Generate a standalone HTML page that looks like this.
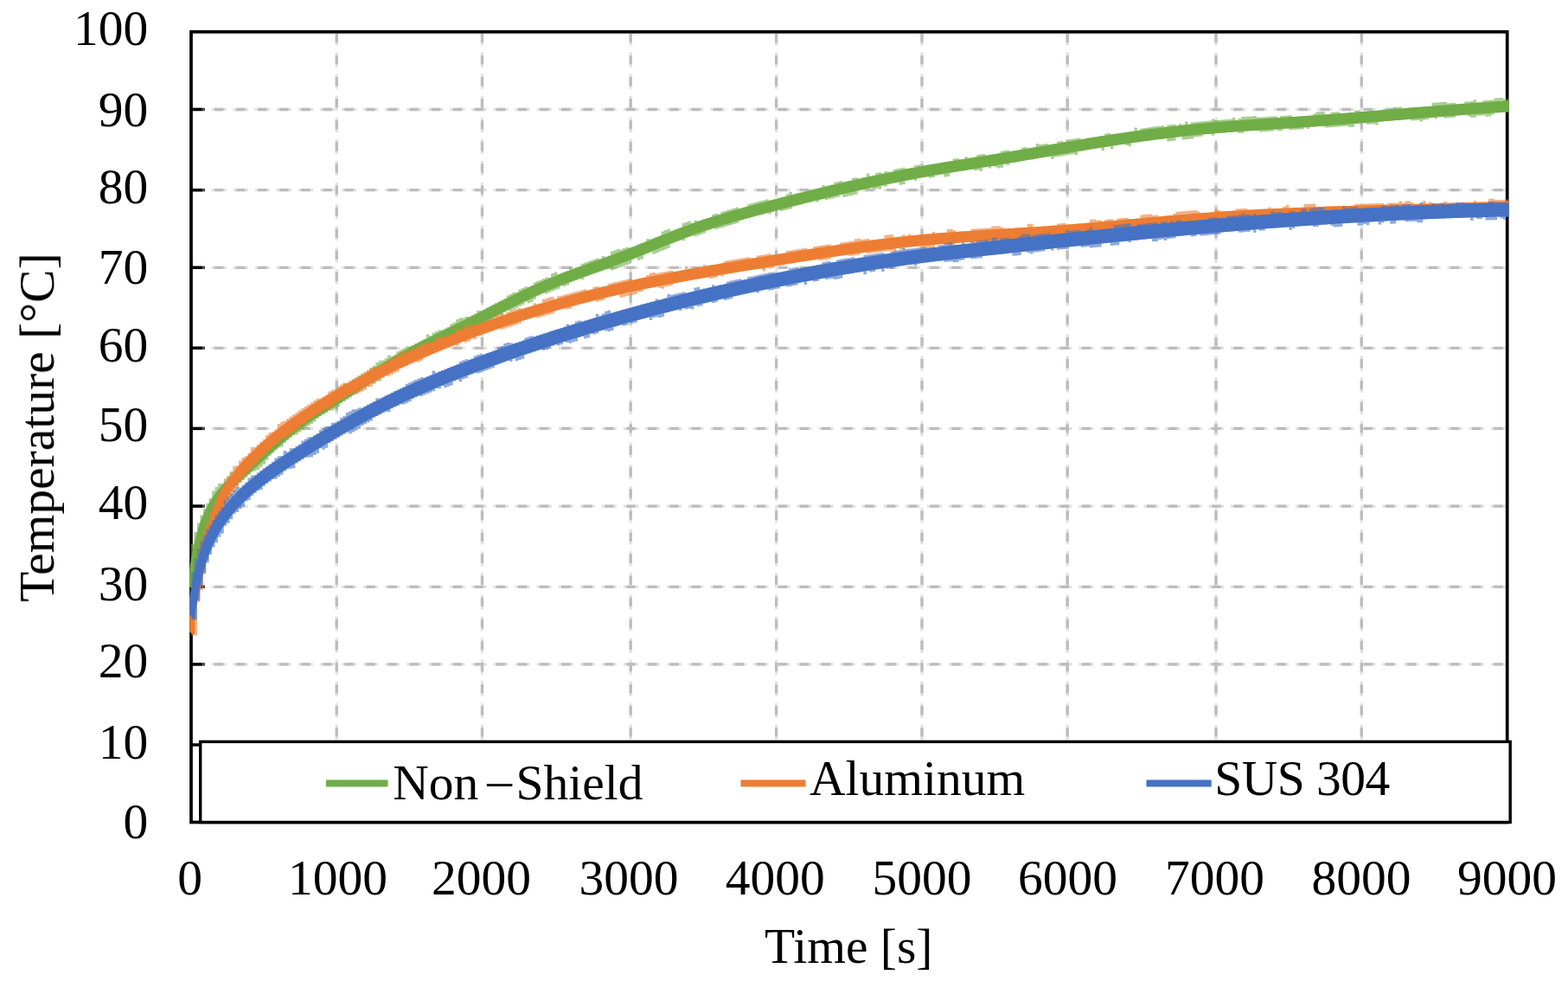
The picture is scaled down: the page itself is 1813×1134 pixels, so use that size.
<!DOCTYPE html>
<html lang="en"><head><meta charset="utf-8"><title>Temperature vs Time</title>
<style>
html,body{margin:0;padding:0;background:#fff;}
body{width:1813px;height:1134px;overflow:hidden;font-family:"Liberation Serif",serif;}
svg{display:block;}
</style></head><body>
<svg width="1813" height="1134" viewBox="0 0 1813 1134">
<rect width="1813" height="1134" fill="#fff"/>
<defs><filter id="soft" x="0" y="0" width="100%" height="100%" filterUnits="userSpaceOnUse"><feGaussianBlur stdDeviation="0.4"/></filter><filter id="softt" x="0" y="0" width="100%" height="100%" filterUnits="userSpaceOnUse"><feGaussianBlur stdDeviation="0.5"/></filter></defs>
<g filter="url(#soft)">
<defs><clipPath id="pc"><rect x="219.2" y="35" width="1525.4" height="917.3"/></clipPath></defs>
<g stroke="#e2e2e2" stroke-width="3.3" stroke-dasharray="17.2 7.87" stroke-dashoffset="0.0" fill="none">
<line x1="219.5" y1="126.5" x2="1742" y2="126.5"/>
<line x1="219.5" y1="219.7" x2="1742" y2="219.7"/>
<line x1="219.5" y1="309.3" x2="1742" y2="309.3"/>
<line x1="219.5" y1="402.3" x2="1742" y2="402.3"/>
<line x1="219.5" y1="495.4" x2="1742" y2="495.4"/>
<line x1="219.5" y1="585.1" x2="1742" y2="585.1"/>
<line x1="219.5" y1="678.3" x2="1742" y2="678.3"/>
<line x1="219.5" y1="767.9" x2="1742" y2="767.9"/>
<line x1="389.3" y1="35.5" x2="389.3" y2="950"/>
<line x1="557.5" y1="35.5" x2="557.5" y2="950"/>
<line x1="729.2" y1="35.5" x2="729.2" y2="950"/>
<line x1="897.6" y1="35.5" x2="897.6" y2="950"/>
<line x1="1066.0" y1="35.5" x2="1066.0" y2="950"/>
<line x1="1234.2" y1="35.5" x2="1234.2" y2="950"/>
<line x1="1406.0" y1="35.5" x2="1406.0" y2="950"/>
<line x1="1574.3" y1="35.5" x2="1574.3" y2="950"/>
</g>
<g stroke="#bcbcbc" stroke-width="3.3" stroke-dasharray="10.4 14.67" stroke-dashoffset="-3.4" fill="none">
<line x1="219.5" y1="126.5" x2="1742" y2="126.5"/>
<line x1="219.5" y1="219.7" x2="1742" y2="219.7"/>
<line x1="219.5" y1="309.3" x2="1742" y2="309.3"/>
<line x1="219.5" y1="402.3" x2="1742" y2="402.3"/>
<line x1="219.5" y1="495.4" x2="1742" y2="495.4"/>
<line x1="219.5" y1="585.1" x2="1742" y2="585.1"/>
<line x1="219.5" y1="678.3" x2="1742" y2="678.3"/>
<line x1="219.5" y1="767.9" x2="1742" y2="767.9"/>
<line x1="389.3" y1="35.5" x2="389.3" y2="950"/>
<line x1="557.5" y1="35.5" x2="557.5" y2="950"/>
<line x1="729.2" y1="35.5" x2="729.2" y2="950"/>
<line x1="897.6" y1="35.5" x2="897.6" y2="950"/>
<line x1="1066.0" y1="35.5" x2="1066.0" y2="950"/>
<line x1="1234.2" y1="35.5" x2="1234.2" y2="950"/>
<line x1="1406.0" y1="35.5" x2="1406.0" y2="950"/>
<line x1="1574.3" y1="35.5" x2="1574.3" y2="950"/>
</g>
<g stroke="#000" stroke-width="3.5">
<line x1="221" y1="126.5" x2="234.3" y2="126.5"/>
<line x1="221" y1="219.7" x2="234.3" y2="219.7"/>
<line x1="221" y1="309.3" x2="234.3" y2="309.3"/>
<line x1="221" y1="402.3" x2="234.3" y2="402.3"/>
<line x1="221" y1="495.4" x2="234.3" y2="495.4"/>
<line x1="221" y1="585.1" x2="234.3" y2="585.1"/>
<line x1="221" y1="678.3" x2="234.3" y2="678.3"/>
<line x1="221" y1="767.9" x2="234.3" y2="767.9"/>
<line x1="221" y1="861.0" x2="234.3" y2="861.0"/>
</g>
<g stroke="#4a4a4a" stroke-width="3.5">
<line x1="234.3" y1="126.5" x2="237" y2="126.5"/>
<line x1="234.3" y1="219.7" x2="237" y2="219.7"/>
<line x1="234.3" y1="309.3" x2="237" y2="309.3"/>
<line x1="234.3" y1="402.3" x2="237" y2="402.3"/>
<line x1="234.3" y1="495.4" x2="237" y2="495.4"/>
<line x1="234.3" y1="585.1" x2="237" y2="585.1"/>
<line x1="234.3" y1="678.3" x2="237" y2="678.3"/>
<line x1="234.3" y1="767.9" x2="237" y2="767.9"/>
<line x1="234.3" y1="861.0" x2="237" y2="861.0"/>
</g>
<rect x="221.0" y="36.8" width="1521.7" height="913.7" fill="none" stroke="#000" stroke-width="3.7"/>
<g clip-path="url(#pc)">
<path d="M221.0,628.6V628.6H224.4V615.1H227.9V604.4H231.3V595.6H234.8V588.1H238.2V581.7H241.6V576.1H245.1V567.5H248.5V563.0H252.0V558.9H255.4V558.8H258.8V553.3H262.3V549.9H265.7V545.0H269.2V545.4H272.6V542.3H276.0V539.2H279.5V536.1H282.9V533.0H286.4V527.9H289.8V524.8H293.2V521.6H296.7V516.8H300.1V513.7H303.6V514.1H307.0V511.1H310.4V506.1H313.9V503.1H317.3V500.1H320.8V499.1H324.2V496.3H327.6V493.5H331.1V487.1H334.5V486.2H338.0V483.6H341.4V481.0H344.8V478.5H348.3V476.1H351.7V473.8H355.2V471.5H358.6V469.3H362.0V467.1H365.5V463.2H368.9V464.6H372.4V460.6H375.8V458.4H379.2V456.3H382.7V454.1H386.1V451.9H389.6V449.7H393.0V447.5H396.4V443.5H399.9V443.0H403.3V440.7H406.8V438.4H410.2V436.2H413.6V433.9H417.1V431.7H420.5V431.3H424.0V429.1H427.4V425.0H430.8V422.8H434.3V419.0H437.7V416.8H441.2V416.4H444.6V414.3H448.0V410.6H451.5V412.1H454.9V410.2H458.4V406.3H461.8V404.4H465.2V402.5H468.7V400.6H472.1V400.6H475.6V398.8H479.0V397.0H482.4V395.2H485.9V393.5H489.3V391.7H492.8V386.4H496.2V388.2H499.6V384.6H503.1V382.9H506.5V381.2H510.0V381.4H513.4V379.7H516.8V378.0H520.3V374.4H523.7V372.7H527.2V369.3H530.6V367.6H534.0V367.6H537.5V365.9H540.9V366.1H544.4V364.4H547.8V362.6H551.2V359.0H554.7V359.1H558.1V357.4H561.6V355.6H565.0V353.8H568.4V352.1H571.9V350.3H575.3V348.5H578.8V346.8H582.2V345.0H585.6V341.4H589.1V339.7H592.5V337.9H596.0V338.1H599.4V334.6H602.8V332.9H606.3V331.3H609.7V331.5H613.2V329.9H616.6V326.5H620.0V324.9H623.5V323.4H626.9V321.9H630.4V320.5H633.8V321.0H637.2V316.0H640.7V314.6H644.1V316.9H647.6V315.5H651.0V314.2H654.4V312.9H657.9V308.0H661.3V310.4H664.8V309.1H668.2V307.9H671.6V304.7H675.1V303.5H678.5V302.2H682.0V301.0H685.4V299.8H688.8V298.5H692.3V299.2H695.7V296.0H699.2V296.7H702.6V295.4H706.0V290.6H709.5V289.3H712.9V288.0H716.4V288.4H719.8V287.1H723.2V285.7H726.7V286.3H730.1V284.9H733.6V283.6H737.0V282.2H740.4V280.8H743.9V279.4H747.3V276.1H750.8V276.6H754.2V275.2H757.6V273.8H761.1V272.4H764.5V267.4H768.0V266.0H771.4V264.6H774.8V266.8H778.3V265.5H781.7V264.2H785.2V262.9H788.6V258.0H792.0V256.7H795.5V255.4H798.9V257.8H802.4V254.7H805.8V255.4H809.2V254.3H812.7V253.1H816.1V252.0H819.6V250.9H823.0V247.9H826.4V246.8H829.9V247.7H833.3V244.8H836.8V243.7H840.2V242.7H843.6V241.7H847.1V240.8H850.5V239.8H854.0V240.7H857.4V239.8H860.8V238.8H864.3V236.0H867.7V235.1H871.2V234.2H874.6V233.2H878.0V232.3H881.5V231.4H884.9V230.5H888.4V231.5H891.8V230.7H895.2V229.8H898.7V228.9H902.1V228.0H905.6V227.1H909.0V224.3H912.4V221.8H915.9V224.5H919.3V223.6H922.8V222.8H926.2V221.9H929.6V221.0H933.1V220.2H936.5V219.3H940.0V218.5H943.4V217.7H946.8V216.8H950.3V214.1H953.7V215.2H957.2V214.3H960.6V213.5H964.0V210.8H967.5V210.0H970.9V209.2H974.4V210.3H977.8V209.5H981.2V208.7H984.7V206.0H988.1V205.3H991.6V206.4H995.0V205.6H998.4V204.9H1001.9V200.5H1005.3V203.4H1008.8V202.7H1012.2V200.0H1015.6V199.3H1019.1V200.5H1022.5V197.9H1026.0V199.1H1029.4V198.4H1032.8V195.8H1036.3V195.1H1039.7V194.4H1043.2V193.8H1046.6V195.0H1050.0V194.4H1053.5V193.7H1056.9V191.2H1060.4V190.6H1063.8V191.9H1067.2V191.2H1070.7V190.6H1074.1V190.0H1077.6V189.5H1081.0V188.9H1084.4V188.3H1087.9V187.7H1091.3V187.1H1094.8V186.6H1098.2V186.0H1101.6V183.6H1105.1V183.0H1108.5V184.3H1112.0V183.8H1115.4V181.3H1118.8V182.7H1122.3V182.1H1125.7V181.6H1129.2V179.1H1132.6V178.6H1136.0V178.0H1139.5V179.4H1142.9V178.8H1146.4V178.3H1149.8V177.7H1153.2V177.1H1156.7V174.7H1160.1V174.1H1163.6V173.5H1167.0V174.8H1170.4V174.3H1173.9V173.7H1177.3V173.1H1180.8V170.6H1184.2V170.0H1187.6V171.3H1191.1V170.7H1194.5V170.1H1198.0V165.9H1201.4V167.0H1204.8V166.5H1208.3V165.9H1211.7V167.2H1215.2V166.6H1218.6V166.0H1222.0V163.5H1225.5V162.9H1228.9V164.2H1232.4V161.7H1235.8V161.1H1239.2V160.6H1242.7V160.0H1246.1V159.4H1249.6V160.7H1253.0V160.2H1256.4V159.6H1259.9V159.0H1263.3V158.5H1266.8V157.9H1270.2V157.4H1273.6V156.8H1277.1V154.4H1280.5V153.9H1284.0V155.2H1287.4V154.7H1290.8V154.2H1294.3V153.7H1297.7V153.2H1301.2V152.7H1304.6V152.2H1308.0V151.7H1311.5V147.6H1314.9V150.7H1318.4V148.4H1321.8V147.9H1325.2V147.5H1328.7V147.0H1332.1V146.6H1335.6V146.1H1339.0V145.7H1342.4V145.3H1345.9V146.8H1349.3V144.5H1352.8V144.1H1356.2V143.7H1359.6V145.2H1363.1V142.9H1366.5V144.5H1370.0V140.5H1373.4V143.7H1376.8V141.5H1380.3V141.2H1383.7V140.8H1387.2V140.5H1390.6V140.2H1394.0V139.9H1397.5V139.6H1400.9V137.6H1404.4V139.0H1407.8V138.7H1411.2V138.5H1414.7V138.2H1418.1V137.9H1421.6V137.7H1425.0V135.7H1428.4V139.1H1431.9V137.0H1435.3V135.0H1438.8V134.8H1442.2V134.6H1445.6V134.4H1449.1V134.1H1452.5V135.6H1456.0V135.4H1459.4V135.2H1462.8V135.0H1466.3V134.8H1469.7V134.6H1473.2V134.3H1476.6V136.0H1480.0V133.9H1483.5V133.7H1486.9V133.5H1490.4V133.3H1493.8V134.9H1497.2V134.7H1500.7V134.5H1504.1V134.2H1507.6V134.0H1511.0V133.8H1514.4V133.5H1517.9V131.4H1521.3V129.4H1524.8V129.2H1528.2V128.9H1531.6V132.3H1535.1V132.0H1538.5V129.8H1542.0V129.6H1545.4V129.3H1548.8V131.0H1552.3V130.7H1555.7V130.4H1559.2V130.1H1562.6V129.9H1566.0V127.7H1569.5V127.4H1572.9V129.1H1576.4V128.8H1579.8V128.5H1583.2V128.2H1586.7V128.0H1590.1V127.7H1593.6V127.4H1597.0V127.1H1600.4V126.8H1603.9V126.6H1607.3V126.3H1610.8V124.1H1614.2V123.8H1617.6V123.5H1621.1V125.2H1624.5V124.9H1628.0V124.6H1631.4V124.3H1634.8V124.0H1638.3V123.8H1641.7V123.5H1645.2V123.2H1648.6V123.0H1652.0V122.7H1655.5V118.8H1658.9V118.5H1662.4V118.3H1665.8V118.0H1669.2V117.7H1672.7V119.2H1676.1V118.9H1679.6V118.7H1683.0V120.3H1686.4V120.0H1689.9V119.8H1693.3V117.6H1696.8V117.4H1700.2V117.1H1703.6V115.2H1707.1V118.5H1710.5V118.3H1714.0V116.2H1717.4V115.9H1720.8V115.7H1724.3V115.5H1727.7V113.5H1731.2V113.3H1734.6V113.1H1738.0V114.6H1741.5V114.4H1744.9V129.5H1741.5V129.7H1738.0V129.9H1734.6V130.2H1731.2V130.4H1727.7V132.5H1724.3V134.5H1720.8V134.7H1717.4V133.2H1714.0V133.5H1710.5V133.7H1707.1V135.7H1703.6V135.9H1700.2V134.5H1696.8V132.8H1693.3V133.1H1689.9V133.3H1686.4V133.6H1683.0V135.7H1679.6V136.0H1676.1V136.3H1672.7V136.5H1669.2V134.9H1665.8V135.2H1662.4V137.3H1658.9V135.7H1655.5V136.0H1652.0V138.1H1648.6V138.4H1645.2V140.4H1641.7V139.0H1638.3V139.3H1634.8V139.5H1631.4V137.9H1628.0V138.2H1624.5V138.5H1621.1V138.7H1617.6V139.0H1614.2V139.3H1610.8V139.6H1607.3V139.9H1603.9V140.1H1600.4V140.4H1597.0V140.7H1593.6V144.6H1590.1V143.2H1586.7V143.4H1583.2V143.7H1579.8V142.1H1576.4V142.4H1572.9V142.6H1569.5V142.9H1566.0V146.8H1562.6V147.0H1559.2V145.6H1555.7V145.9H1552.3V146.1H1548.8V146.4H1545.4V146.7H1542.0V146.9H1538.5V147.2H1535.1V147.4H1531.6V145.8H1528.2V146.0H1524.8V146.3H1521.3V146.5H1517.9V146.8H1514.4V148.9H1511.0V147.3H1507.6V149.4H1504.1V149.6H1500.7V149.8H1497.2V150.1H1493.8V150.3H1490.4V148.6H1486.9V148.8H1483.5V150.9H1480.0V151.2H1476.6V149.5H1473.2V151.6H1469.7V151.8H1466.3V152.0H1462.8V152.2H1459.4V152.4H1456.0V150.8H1452.5V151.0H1449.1V151.2H1445.6V151.4H1442.2V151.7H1438.8V153.8H1435.3V154.0H1431.9V152.4H1428.4V152.6H1425.0V152.9H1421.6V153.1H1418.1V153.4H1414.7V153.7H1411.2V153.9H1407.8V154.2H1404.4V156.4H1400.9V154.8H1397.5V155.1H1394.0V155.4H1390.6V157.7H1387.2V158.0H1383.7V158.3H1380.3V160.4H1376.8V160.7H1373.4V161.1H1370.0V161.5H1366.5V158.3H1363.1V158.6H1359.6V162.6H1356.2V163.0H1352.8V163.4H1349.3V160.2H1345.9V160.7H1342.4V161.1H1339.0V161.5H1335.6V162.0H1332.1V162.4H1328.7V162.9H1325.2V163.3H1321.8V163.8H1318.4V164.3H1314.9V164.8H1311.5V165.3H1308.0V169.3H1304.6V168.1H1301.2V166.8H1297.7V167.3H1294.3V167.8H1290.8V168.3H1287.4V172.4H1284.0V169.4H1280.5V169.9H1277.1V174.1H1273.6V171.0H1270.2V171.6H1266.8V172.1H1263.3V172.7H1259.9V173.3H1256.4V173.8H1253.0V174.4H1249.6V175.0H1246.1V179.2H1242.7V178.0H1239.2V178.6H1235.8V179.2H1232.4V179.8H1228.9V180.4H1225.5V181.0H1222.0V181.6H1218.6V183.9H1215.2V180.9H1211.7V181.5H1208.3V182.1H1204.8V182.7H1201.4V183.3H1198.0V183.8H1194.5V184.4H1191.1V185.0H1187.6V185.6H1184.2V186.2H1180.8V186.8H1177.3V187.4H1173.9V188.0H1170.4V188.5H1167.0V191.0H1163.6V189.7H1160.1V193.8H1156.7V194.4H1153.2V193.3H1149.8V191.9H1146.4V194.4H1142.9V193.0H1139.5V193.6H1136.0V197.7H1132.6V196.6H1129.2V197.1H1125.7V195.8H1122.3V196.3H1118.8V196.9H1115.4V197.5H1112.0V198.0H1108.5V198.6H1105.1V199.1H1101.6V199.7H1098.2V203.9H1094.8V204.4H1091.3V201.4H1087.9V202.0H1084.4V202.6H1081.0V205.1H1077.6V205.7H1074.1V204.4H1070.7V205.0H1067.2V205.6H1063.8V206.2H1060.4V208.8H1056.9V207.5H1053.5V208.2H1050.0V208.8H1046.6V213.1H1043.2V213.8H1039.7V210.9H1036.3V211.5H1032.8V212.2H1029.4V213.0H1026.0V215.6H1022.5V214.4H1019.1V218.7H1015.6V217.7H1012.2V218.5H1008.8V217.3H1005.3V218.1H1001.9V218.8H998.4V219.6H995.0V220.4H991.6V224.7H988.1V225.5H984.7V226.3H981.2V227.1H977.8V227.9H974.4V225.1H970.9V227.8H967.5V228.6H964.0V229.5H960.6V230.3H957.2V231.1H953.7V230.1H950.3V230.9H946.8V233.6H943.4V232.6H940.0V233.4H936.5V234.3H933.1V235.1H929.6V236.0H926.2V236.9H922.8V237.7H919.3V238.6H915.9V241.4H912.4V242.3H909.0V243.2H905.6V244.0H902.1V243.0H898.7V243.9H895.2V244.8H891.8V247.6H888.4V246.6H884.9V247.5H881.5V248.4H878.0V249.3H874.6V250.3H871.2V251.2H867.7V252.1H864.3V253.1H860.8V254.0H857.4V255.0H854.0V257.9H850.5V258.9H847.1V259.9H843.6V260.9H840.2V261.9H836.8V263.0H833.3V264.0H829.9V265.1H826.4V264.3H823.0V265.4H819.6V266.5H816.1V269.6H812.7V270.8H809.2V272.0H805.8V273.2H802.4V272.5H798.9V273.8H795.5V275.1H792.0V278.3H788.6V277.7H785.2V279.1H781.7V280.4H778.3V281.8H774.8V286.8H771.4V288.2H768.0V289.6H764.5V291.0H761.1V292.4H757.6V293.8H754.2V291.6H750.8V293.0H747.3V294.4H743.9V299.4H740.4V300.8H737.0V298.5H733.6V299.9H730.1V304.8H726.7V306.1H723.2V307.4H719.8V308.7H716.4V310.0H712.9V311.3H709.5V312.5H706.0V310.2H702.6V311.4H699.2V312.7H695.7V313.9H692.3V315.2H688.8V316.4H685.4V317.6H682.0V318.9H678.5V320.1H675.1V323.3H671.6V322.6H668.2V323.9H664.8V325.2H661.3V326.5H657.9V329.7H654.4V331.0H651.0V330.5H647.6V333.7H644.1V335.1H640.7V336.5H637.2V338.0H633.8V339.5H630.4V339.1H626.9V340.6H623.5V342.2H620.0V345.7H616.6V349.0H613.2V350.6H609.7V348.7H606.3V352.3H602.8V354.0H599.4V355.7H596.0V357.4H592.5V359.2H589.1V359.0H585.6V360.8H582.2V364.4H578.8V364.3H575.3V366.1H571.9V369.7H568.4V371.5H565.0V375.0H561.6V376.7H558.1V378.4H554.7V380.2H551.2V381.9H547.8V381.9H544.4V383.6H540.9V385.3H537.5V387.0H534.0V388.7H530.6V390.4H527.2V390.2H523.7V391.9H520.3V393.6H516.8V397.2H513.4V398.9H510.0V400.6H506.5V402.4H503.1V402.2H499.6V405.8H496.2V407.6H492.8V409.4H489.3V411.1H485.9V412.9H482.4V412.9H479.0V416.6H475.6V418.5H472.1V420.4H468.7V420.4H465.2V422.4H461.8V424.4H458.4V426.4H454.9V428.5H451.5V430.6H448.0V434.6H444.6V436.8H441.2V440.6H437.7V441.1H434.3V443.3H430.8V443.6H427.4V445.9H424.0V448.1H420.5V450.4H417.1V452.6H413.6V454.9H410.2V457.2H406.8V459.4H403.3V461.7H399.9V463.9H396.4V466.1H393.0V470.2H389.6V472.4H386.1V474.5H382.7V474.8H379.2V476.9H375.8V479.1H372.4V481.3H368.9V483.5H365.5V487.6H362.0V489.9H358.6V492.3H355.2V494.7H351.7V497.2H348.3V499.8H344.8V502.4H341.4V503.2H338.0V506.0H334.5V508.8H331.1V511.7H327.6V516.5H324.2V517.6H320.8V520.6H317.3V523.7H313.9V526.8H310.4V531.8H307.0V536.7H303.6V539.8H300.1V543.0H296.7V544.4H293.2V545.6H289.8V548.7H286.4V551.8H282.9V554.9H279.5V558.1H276.0V561.3H272.6V564.6H269.2V568.1H265.7V571.8H262.3V575.8H258.8V580.2H255.4V585.2H252.0V590.8H248.5V597.2H245.1V604.8H241.6V613.9H238.2V625.2H234.8V639.5H231.3V658.5H227.9V682.5H224.4V682.5H221.0Z" fill="#70ad47" fill-opacity="0.6"/>
<path d="M217.0,677.1 L217.2,674.6 L217.5,672.2 L217.7,669.8 L218.0,667.3 L218.3,664.9 L218.6,662.4 L218.9,660.0 L219.2,657.5 L219.6,655.0 L219.9,652.6 L220.3,650.1 L220.7,647.7 L221.1,645.2 L221.6,642.8 L222.0,640.3 L222.5,637.9 L223.0,635.5 L223.5,633.0 L224.0,630.6 L224.5,628.2 L225.1,625.7 L225.7,623.3 L226.3,620.9 L226.9,618.5 L227.6,616.1 L228.3,613.7 L229.0,611.3 L229.8,608.9 L230.6,606.5 L231.4,604.1 L232.3,601.8 L233.2,599.4 L234.1,597.1 L235.1,594.8 L236.1,592.5 L237.2,590.2 L238.3,587.9 L239.5,585.7 L240.7,583.4 L241.9,581.2 L243.2,579.0 L244.6,576.9 L246.0,574.7 L247.4,572.6 L248.9,570.6 L250.4,568.5 L252.0,566.5 L253.6,564.6 L255.3,562.6 L257.0,560.7 L258.7,558.9 L260.5,557.0 L262.3,555.2 L264.1,553.4 L265.9,551.7 L267.7,549.9 L269.5,548.2 L271.4,546.5 L273.2,544.8 L275.1,543.1 L277.0,541.4 L278.8,539.7 L280.7,538.1 L282.5,536.4 L284.4,534.7 L286.2,533.1 L288.1,531.4 L289.9,529.7 L291.8,528.0 L293.6,526.3 L295.5,524.6 L297.3,523.0 L299.2,521.3 L301.0,519.6 L302.9,517.9 L304.7,516.2 L306.6,514.5 L308.4,512.9 L310.3,511.2 L312.2,509.5 L314.1,507.9 L316.0,506.2 L317.8,504.5 L319.8,502.9 L321.7,501.3 L323.6,499.7 L325.5,498.0 L327.5,496.4 L329.4,494.8 L331.4,493.3 L333.3,491.7 L335.3,490.1 L337.3,488.6 L339.3,487.0 L341.3,485.5 L343.3,484.0 L345.4,482.5 L347.4,481.0 L349.5,479.6 L351.6,478.1 L353.6,476.7 L355.7,475.3 L357.8,473.9 L359.9,472.5 L362.0,471.2 L364.2,469.8 L366.3,468.5 L368.4,467.1 L370.5,465.8 L372.6,464.5 L374.8,463.1 L376.9,461.8 L379.0,460.5 L381.1,459.2 L383.2,457.8 L385.3,456.5 L387.4,455.2 L389.5,453.8 L391.6,452.5 L393.7,451.1 L395.8,449.8 L397.9,448.4 L400.0,447.0 L402.1,445.7 L404.2,444.3 L406.3,442.9 L408.3,441.5 L410.4,440.2 L412.5,438.8 L414.6,437.4 L416.7,436.1 L418.8,434.7 L420.9,433.3 L423.0,432.0 L425.1,430.6 L427.2,429.2 L429.3,427.9 L431.4,426.5 L433.6,425.2 L435.7,423.8 L437.8,422.5 L439.9,421.2 L442.1,419.9 L444.2,418.6 L446.4,417.2 L448.5,415.9 L450.7,414.7 L452.8,413.4 L455.0,412.1 L457.2,410.8 L459.4,409.6 L461.5,408.3 L463.7,407.1 L465.9,405.9 L468.1,404.7 L470.3,403.5 L472.5,402.3 L474.8,401.1 L477.0,399.9 L479.2,398.7 L481.4,397.6 L483.6,396.4 L485.9,395.2 L488.1,394.1 L490.3,392.9 L492.6,391.8 L494.8,390.7 L497.0,389.5 L499.3,388.4 L501.5,387.3 L503.7,386.2 L506.0,385.1 L508.2,383.9 L510.5,382.8 L512.7,381.7 L515.0,380.6 L517.2,379.5 L519.4,378.4 L521.7,377.3 L523.9,376.2 L526.2,375.1 L528.4,374.0 L530.6,372.9 L532.9,371.8 L535.1,370.7 L537.4,369.6 L539.6,368.4 L541.8,367.3 L544.1,366.2 L546.3,365.1 L548.5,364.0 L550.8,362.9 L553.0,361.7 L555.2,360.6 L557.4,359.5 L559.7,358.3 L561.9,357.2 L564.1,356.1 L566.3,354.9 L568.6,353.8 L570.8,352.6 L573.0,351.5 L575.2,350.4 L577.4,349.2 L579.7,348.1 L581.9,346.9 L584.1,345.8 L586.4,344.7 L588.6,343.5 L590.8,342.4 L593.1,341.3 L595.3,340.2 L597.6,339.0 L599.8,337.9 L602.1,336.8 L604.3,335.7 L606.6,334.6 L608.9,333.6 L611.1,332.5 L613.4,331.4 L615.7,330.4 L618.0,329.3 L620.3,328.3 L622.6,327.2 L624.9,326.2 L627.2,325.2 L629.5,324.2 L631.8,323.2 L634.1,322.3 L636.5,321.3 L638.8,320.3 L641.1,319.4 L643.4,318.5 L645.8,317.6 L648.1,316.6 L650.5,315.7 L652.8,314.8 L655.2,313.9 L657.5,313.1 L659.9,312.2 L662.2,311.3 L664.6,310.4 L666.9,309.6 L669.3,308.7 L671.6,307.9 L674.0,307.0 L676.3,306.2 L678.7,305.3 L681.0,304.5 L683.4,303.6 L685.7,302.8 L688.1,301.9 L690.4,301.1 L692.8,300.2 L695.1,299.4 L697.5,298.5 L699.8,297.7 L702.2,296.8 L704.5,296.0 L706.9,295.1 L709.2,294.3 L711.5,293.4 L713.9,292.5 L716.2,291.6 L718.5,290.8 L720.9,289.9 L723.2,289.0 L725.5,288.1 L727.8,287.2 L730.2,286.3 L732.5,285.4 L734.8,284.4 L737.1,283.5 L739.4,282.6 L741.7,281.6 L744.1,280.7 L746.4,279.8 L748.7,278.8 L751.0,277.9 L753.3,276.9 L755.6,276.0 L757.9,275.0 L760.2,274.1 L762.6,273.2 L764.9,272.2 L767.2,271.3 L769.5,270.3 L771.9,269.4 L774.2,268.5 L776.5,267.5 L778.8,266.6 L781.2,265.7 L783.5,264.8 L785.9,263.9 L788.2,263.0 L790.6,262.1 L792.9,261.2 L795.3,260.4 L797.6,259.5 L800.0,258.6 L802.4,257.8 L804.7,257.0 L807.1,256.1 L809.5,255.3 L811.9,254.5 L814.3,253.7 L816.6,252.9 L819.0,252.2 L821.4,251.4 L823.8,250.6 L826.2,249.9 L828.6,249.1 L831.0,248.4 L833.4,247.7 L835.8,246.9 L838.2,246.2 L840.6,245.5 L843.0,244.8 L845.4,244.1 L847.9,243.4 L850.3,242.7 L852.7,242.0 L855.1,241.4 L857.5,240.7 L859.9,240.0 L862.3,239.4 L864.8,238.7 L867.2,238.0 L869.6,237.4 L872.0,236.7 L874.4,236.1 L876.9,235.5 L879.3,234.8 L881.7,234.2 L884.1,233.5 L886.5,232.9 L889.0,232.3 L891.4,231.6 L893.8,231.0 L896.2,230.4 L898.7,229.8 L901.1,229.1 L903.5,228.5 L905.9,227.9 L908.4,227.3 L910.8,226.7 L913.2,226.0 L915.6,225.4 L918.0,224.8 L920.5,224.2 L922.9,223.6 L925.3,223.0 L927.8,222.4 L930.2,221.8 L932.6,221.2 L935.0,220.6 L937.5,220.0 L939.9,219.4 L942.3,218.8 L944.8,218.2 L947.2,217.6 L949.6,217.0 L952.1,216.4 L954.5,215.8 L956.9,215.2 L959.4,214.6 L961.8,214.1 L964.2,213.5 L966.7,212.9 L969.1,212.3 L971.5,211.8 L974.0,211.2 L976.4,210.6 L978.9,210.1 L981.3,209.5 L983.7,208.9 L986.2,208.4 L988.6,207.8 L991.1,207.3 L993.5,206.7 L996.0,206.2 L998.4,205.6 L1000.9,205.1 L1003.3,204.6 L1005.7,204.0 L1008.2,203.5 L1010.6,203.0 L1013.1,202.5 L1015.5,202.0 L1018.0,201.4 L1020.4,200.9 L1022.9,200.4 L1025.4,199.9 L1027.8,199.4 L1030.3,198.9 L1032.7,198.4 L1035.2,197.9 L1037.6,197.4 L1040.1,196.9 L1042.6,196.5 L1045.0,196.0 L1047.5,195.5 L1049.9,195.0 L1052.4,194.6 L1054.9,194.1 L1057.3,193.7 L1059.8,193.2 L1062.3,192.8 L1064.7,192.3 L1067.2,191.9 L1069.7,191.4 L1072.1,191.0 L1074.6,190.6 L1077.1,190.1 L1079.5,189.7 L1082.0,189.3 L1084.5,188.9 L1086.9,188.5 L1089.4,188.0 L1091.9,187.6 L1094.3,187.2 L1096.8,186.8 L1099.3,186.4 L1101.7,186.0 L1104.2,185.6 L1106.7,185.2 L1109.2,184.8 L1111.6,184.4 L1114.1,184.0 L1116.6,183.6 L1119.0,183.2 L1121.5,182.8 L1124.0,182.4 L1126.4,182.0 L1128.9,181.6 L1131.4,181.2 L1133.8,180.8 L1136.3,180.4 L1138.8,180.0 L1141.2,179.7 L1143.7,179.3 L1146.2,178.9 L1148.6,178.5 L1151.1,178.1 L1153.6,177.7 L1156.0,177.2 L1158.5,176.8 L1161.0,176.4 L1163.4,176.0 L1165.9,175.6 L1168.4,175.2 L1170.8,174.8 L1173.3,174.4 L1175.7,173.9 L1178.2,173.5 L1180.7,173.1 L1183.1,172.7 L1185.6,172.3 L1188.1,171.8 L1190.5,171.4 L1193.0,171.0 L1195.5,170.6 L1197.9,170.1 L1200.4,169.7 L1202.8,169.3 L1205.3,168.9 L1207.8,168.4 L1210.2,168.0 L1212.7,167.6 L1215.2,167.2 L1217.6,166.7 L1220.1,166.3 L1222.6,165.9 L1225.0,165.5 L1227.5,165.0 L1229.9,164.6 L1232.4,164.2 L1234.9,163.8 L1237.3,163.4 L1239.8,162.9 L1242.3,162.5 L1244.7,162.1 L1247.2,161.7 L1249.7,161.3 L1252.2,160.9 L1254.6,160.5 L1257.1,160.0 L1259.6,159.6 L1262.0,159.2 L1264.5,158.8 L1267.0,158.4 L1269.4,158.0 L1271.9,157.6 L1274.4,157.3 L1276.9,156.9 L1279.3,156.5 L1281.8,156.1 L1284.3,155.7 L1286.8,155.3 L1289.2,154.9 L1291.7,154.6 L1294.2,154.2 L1296.7,153.8 L1299.1,153.5 L1301.6,153.1 L1304.1,152.7 L1306.6,152.4 L1309.1,152.0 L1311.5,151.7 L1314.0,151.3 L1316.5,151.0 L1319.0,150.6 L1321.5,150.3 L1323.9,150.0 L1326.4,149.6 L1328.9,149.3 L1331.4,149.0 L1333.9,148.7 L1336.4,148.4 L1338.9,148.1 L1341.3,147.7 L1343.8,147.4 L1346.3,147.1 L1348.8,146.8 L1351.3,146.5 L1353.8,146.3 L1356.3,146.0 L1358.8,145.7 L1361.3,145.4 L1363.7,145.1 L1366.2,144.9 L1368.7,144.6 L1371.2,144.3 L1373.7,144.1 L1376.2,143.8 L1378.7,143.6 L1381.2,143.3 L1383.7,143.1 L1386.2,142.8 L1388.7,142.6 L1391.2,142.4 L1393.7,142.1 L1396.2,141.9 L1398.7,141.7 L1401.2,141.5 L1403.7,141.3 L1406.1,141.0 L1408.6,140.8 L1411.1,140.6 L1413.6,140.4 L1416.1,140.3 L1418.6,140.1 L1421.1,139.9 L1423.6,139.7 L1426.1,139.5 L1428.6,139.3 L1431.1,139.2 L1433.6,139.0 L1436.1,138.8 L1438.6,138.7 L1441.1,138.5 L1443.6,138.3 L1446.1,138.2 L1448.6,138.0 L1451.1,137.8 L1453.6,137.7 L1456.1,137.5 L1458.6,137.4 L1461.1,137.2 L1463.6,137.1 L1466.1,136.9 L1468.6,136.7 L1471.1,136.6 L1473.6,136.4 L1476.1,136.3 L1478.6,136.1 L1481.1,136.0 L1483.5,135.8 L1486.0,135.7 L1488.5,135.5 L1491.0,135.3 L1493.5,135.2 L1496.0,135.0 L1498.5,134.8 L1501.0,134.7 L1503.5,134.5 L1506.0,134.3 L1508.5,134.2 L1511.0,134.0 L1513.5,133.8 L1515.9,133.7 L1518.4,133.5 L1520.9,133.3 L1523.4,133.1 L1525.9,132.9 L1528.4,132.8 L1530.9,132.6 L1533.4,132.4 L1535.9,132.2 L1538.4,132.0 L1540.9,131.8 L1543.4,131.6 L1545.8,131.5 L1548.3,131.3 L1550.8,131.1 L1553.3,130.9 L1555.8,130.7 L1558.3,130.5 L1560.8,130.3 L1563.3,130.1 L1565.8,129.9 L1568.3,129.7 L1570.8,129.5 L1573.2,129.3 L1575.7,129.1 L1578.2,128.9 L1580.7,128.7 L1583.2,128.5 L1585.7,128.3 L1588.2,128.1 L1590.7,127.9 L1593.2,127.7 L1595.7,127.5 L1598.2,127.3 L1600.7,127.1 L1603.1,126.9 L1605.6,126.7 L1608.1,126.5 L1610.6,126.3 L1613.1,126.1 L1615.6,125.9 L1618.1,125.7 L1620.6,125.5 L1623.1,125.3 L1625.6,125.1 L1628.1,124.9 L1630.6,124.7 L1633.0,124.5 L1635.5,124.3 L1638.0,124.1 L1640.5,123.9 L1643.0,123.7 L1645.5,123.5 L1648.0,123.3 L1650.5,123.1 L1653.0,122.9 L1655.5,122.7 L1658.0,122.5 L1660.5,122.3 L1663.0,122.1 L1665.5,121.9 L1668.0,121.7 L1670.4,121.5 L1672.9,121.3 L1675.4,121.1 L1677.9,120.9 L1680.4,120.7 L1682.9,120.6 L1685.4,120.4 L1687.9,120.2 L1690.4,120.0 L1692.9,119.8 L1695.4,119.6 L1697.9,119.5 L1700.4,119.3 L1702.9,119.1 L1705.4,118.9 L1707.9,118.7 L1710.4,118.6 L1712.9,118.4 L1715.4,118.2 L1717.8,118.0 L1720.3,117.9 L1722.8,117.7 L1725.3,117.5 L1727.8,117.4 L1730.3,117.2 L1732.8,117.0 L1735.3,116.9 L1737.8,116.7 L1740.3,116.6 L1742.8,116.4 L1744.8,116.3 L1745.2,129.3 L1743.3,129.4 L1740.8,129.5 L1738.3,129.7 L1735.8,129.9 L1733.4,130.0 L1730.9,130.2 L1728.4,130.3 L1725.9,130.5 L1723.4,130.7 L1720.9,130.9 L1718.4,131.0 L1715.9,131.2 L1713.4,131.4 L1710.9,131.5 L1708.4,131.7 L1705.9,131.9 L1703.4,132.1 L1701.0,132.3 L1698.5,132.4 L1696.0,132.6 L1693.5,132.8 L1691.0,133.0 L1688.5,133.2 L1686.0,133.4 L1683.5,133.5 L1681.0,133.7 L1678.5,133.9 L1676.0,134.1 L1673.6,134.3 L1671.1,134.5 L1668.6,134.7 L1666.1,134.9 L1663.6,135.1 L1661.1,135.3 L1658.6,135.5 L1656.1,135.7 L1653.6,135.9 L1651.1,136.0 L1648.6,136.2 L1646.1,136.4 L1643.7,136.6 L1641.2,136.8 L1638.7,137.0 L1636.2,137.2 L1633.7,137.4 L1631.2,137.6 L1628.7,137.8 L1626.2,138.0 L1623.7,138.2 L1621.2,138.5 L1618.7,138.7 L1616.2,138.9 L1613.8,139.1 L1611.3,139.3 L1608.8,139.5 L1606.3,139.7 L1603.8,139.9 L1601.3,140.1 L1598.8,140.3 L1596.3,140.5 L1593.8,140.7 L1591.3,140.9 L1588.8,141.1 L1586.3,141.3 L1583.9,141.5 L1581.4,141.7 L1578.9,141.9 L1576.4,142.1 L1573.9,142.3 L1571.4,142.5 L1568.9,142.7 L1566.4,142.9 L1563.9,143.1 L1561.4,143.3 L1558.9,143.5 L1556.4,143.7 L1553.9,143.9 L1551.4,144.0 L1548.9,144.2 L1546.5,144.4 L1544.0,144.6 L1541.5,144.8 L1539.0,145.0 L1536.5,145.2 L1534.0,145.4 L1531.5,145.6 L1529.0,145.7 L1526.5,145.9 L1524.0,146.1 L1521.5,146.3 L1519.0,146.5 L1516.5,146.6 L1514.0,146.8 L1511.5,147.0 L1509.0,147.2 L1506.5,147.3 L1504.0,147.5 L1501.5,147.7 L1499.0,147.8 L1496.5,148.0 L1494.0,148.2 L1491.5,148.3 L1489.0,148.5 L1486.5,148.6 L1484.1,148.8 L1481.6,149.0 L1479.1,149.1 L1476.6,149.3 L1474.1,149.4 L1471.6,149.6 L1469.1,149.7 L1466.6,149.9 L1464.1,150.0 L1461.6,150.2 L1459.1,150.3 L1456.6,150.5 L1454.1,150.7 L1451.6,150.8 L1449.1,151.0 L1446.6,151.1 L1444.1,151.3 L1441.6,151.5 L1439.2,151.6 L1436.7,151.8 L1434.2,152.0 L1431.7,152.1 L1429.2,152.3 L1426.7,152.5 L1424.2,152.7 L1421.7,152.9 L1419.2,153.0 L1416.8,153.2 L1414.3,153.4 L1411.8,153.6 L1409.3,153.8 L1406.8,154.0 L1404.3,154.2 L1401.8,154.4 L1399.4,154.7 L1396.9,154.9 L1394.4,155.1 L1391.9,155.3 L1389.4,155.6 L1386.9,155.8 L1384.5,156.0 L1382.0,156.3 L1379.5,156.5 L1377.0,156.8 L1374.5,157.0 L1372.1,157.3 L1369.6,157.5 L1367.1,157.8 L1364.6,158.1 L1362.1,158.4 L1359.7,158.6 L1357.2,158.9 L1354.7,159.2 L1352.2,159.5 L1349.8,159.8 L1347.3,160.1 L1344.8,160.4 L1342.3,160.7 L1339.8,161.0 L1337.4,161.3 L1334.9,161.6 L1332.4,161.9 L1330.0,162.3 L1327.5,162.6 L1325.0,162.9 L1322.5,163.2 L1320.1,163.6 L1317.6,163.9 L1315.1,164.3 L1312.7,164.6 L1310.2,164.9 L1307.7,165.3 L1305.2,165.7 L1302.8,166.0 L1300.3,166.4 L1297.8,166.7 L1295.4,167.1 L1292.9,167.5 L1290.4,167.9 L1288.0,168.2 L1285.5,168.6 L1283.0,169.0 L1280.6,169.4 L1278.1,169.8 L1275.6,170.2 L1273.2,170.5 L1270.7,170.9 L1268.2,171.3 L1265.8,171.7 L1263.3,172.1 L1260.9,172.5 L1258.4,172.9 L1255.9,173.4 L1253.5,173.8 L1251.0,174.2 L1248.5,174.6 L1246.1,175.0 L1243.6,175.4 L1241.1,175.8 L1238.7,176.2 L1236.2,176.7 L1233.8,177.1 L1231.3,177.5 L1228.8,177.9 L1226.4,178.3 L1223.9,178.8 L1221.4,179.2 L1219.0,179.6 L1216.5,180.0 L1214.1,180.5 L1211.6,180.9 L1209.1,181.3 L1206.7,181.7 L1204.2,182.2 L1201.7,182.6 L1199.3,183.0 L1196.8,183.5 L1194.3,183.9 L1191.9,184.3 L1189.4,184.7 L1187.0,185.1 L1184.5,185.6 L1182.0,186.0 L1179.6,186.4 L1177.1,186.8 L1174.6,187.3 L1172.2,187.7 L1169.7,188.1 L1167.2,188.5 L1164.7,188.9 L1162.3,189.3 L1159.8,189.7 L1157.3,190.1 L1154.9,190.5 L1152.4,190.9 L1149.9,191.4 L1147.5,191.8 L1145.0,192.2 L1142.5,192.6 L1140.1,192.9 L1137.6,193.3 L1135.1,193.7 L1132.6,194.1 L1130.2,194.5 L1127.7,194.9 L1125.2,195.3 L1122.8,195.7 L1120.3,196.1 L1117.8,196.5 L1115.4,196.9 L1112.9,197.3 L1110.4,197.7 L1108.0,198.1 L1105.5,198.5 L1103.0,198.9 L1100.6,199.3 L1098.1,199.7 L1095.6,200.1 L1093.2,200.5 L1090.7,200.9 L1088.3,201.3 L1085.8,201.8 L1083.3,202.2 L1080.9,202.6 L1078.4,203.0 L1076.0,203.4 L1073.5,203.9 L1071.0,204.3 L1068.6,204.7 L1066.1,205.2 L1063.7,205.6 L1061.2,206.1 L1058.8,206.5 L1056.3,207.0 L1053.9,207.4 L1051.4,207.9 L1049.0,208.4 L1046.5,208.8 L1044.1,209.3 L1041.6,209.8 L1039.2,210.3 L1036.7,210.8 L1034.3,211.3 L1031.9,211.7 L1029.4,212.2 L1027.0,212.7 L1024.5,213.2 L1022.1,213.8 L1019.6,214.3 L1017.2,214.8 L1014.8,215.3 L1012.3,215.8 L1009.9,216.3 L1007.4,216.9 L1005.0,217.4 L1002.6,217.9 L1000.1,218.5 L997.7,219.0 L995.3,219.5 L992.8,220.1 L990.4,220.6 L988.0,221.2 L985.5,221.7 L983.1,222.3 L980.7,222.9 L978.2,223.4 L975.8,224.0 L973.4,224.5 L970.9,225.1 L968.5,225.7 L966.1,226.3 L963.6,226.8 L961.2,227.4 L958.8,228.0 L956.4,228.6 L953.9,229.2 L951.5,229.8 L949.1,230.3 L946.7,230.9 L944.2,231.5 L941.8,232.1 L939.4,232.7 L937.0,233.3 L934.5,233.9 L932.1,234.5 L929.7,235.1 L927.3,235.7 L924.9,236.3 L922.4,237.0 L920.0,237.6 L917.6,238.2 L915.2,238.8 L912.8,239.4 L910.3,240.0 L907.9,240.7 L905.5,241.3 L903.1,241.9 L900.7,242.5 L898.2,243.1 L895.8,243.8 L893.4,244.4 L891.0,245.0 L888.6,245.6 L886.1,246.3 L883.7,246.9 L881.3,247.5 L878.9,248.2 L876.5,248.8 L874.1,249.5 L871.7,250.1 L869.3,250.8 L866.9,251.4 L864.5,252.1 L862.1,252.7 L859.7,253.4 L857.3,254.1 L854.9,254.7 L852.5,255.4 L850.1,256.1 L847.7,256.8 L845.3,257.5 L842.9,258.2 L840.5,258.9 L838.1,259.6 L835.7,260.3 L833.4,261.0 L831.0,261.8 L828.6,262.5 L826.2,263.3 L823.9,264.0 L821.5,264.8 L819.1,265.5 L816.8,266.3 L814.4,267.1 L812.1,267.9 L809.7,268.7 L807.4,269.5 L805.0,270.3 L802.7,271.2 L800.4,272.0 L798.0,272.9 L795.7,273.7 L793.4,274.6 L791.1,275.5 L788.7,276.4 L786.4,277.3 L784.1,278.2 L781.8,279.1 L779.5,280.0 L777.1,280.9 L774.8,281.8 L772.5,282.8 L770.2,283.7 L767.9,284.6 L765.6,285.6 L763.3,286.5 L761.0,287.4 L758.6,288.4 L756.3,289.3 L754.0,290.3 L751.7,291.2 L749.4,292.2 L747.1,293.1 L744.7,294.1 L742.4,295.0 L740.1,295.9 L737.8,296.9 L735.4,297.8 L733.1,298.7 L730.8,299.6 L728.4,300.6 L726.1,301.5 L723.7,302.4 L721.4,303.3 L719.0,304.1 L716.7,305.0 L714.3,305.9 L712.0,306.8 L709.6,307.6 L707.3,308.5 L704.9,309.4 L702.6,310.2 L700.2,311.1 L697.9,311.9 L695.5,312.8 L693.1,313.6 L690.8,314.5 L688.4,315.3 L686.1,316.1 L683.7,317.0 L681.4,317.8 L679.0,318.7 L676.7,319.5 L674.3,320.4 L672.0,321.2 L669.7,322.1 L667.3,322.9 L665.0,323.8 L662.6,324.7 L660.3,325.6 L658.0,326.4 L655.7,327.3 L653.3,328.2 L651.0,329.1 L648.7,330.0 L646.4,330.9 L644.1,331.8 L641.8,332.8 L639.5,333.7 L637.2,334.6 L634.9,335.6 L632.6,336.6 L630.4,337.6 L628.1,338.5 L625.8,339.5 L623.6,340.6 L621.3,341.6 L619.0,342.6 L616.8,343.7 L614.5,344.7 L612.3,345.8 L610.1,346.9 L607.8,347.9 L605.6,349.0 L603.4,350.1 L601.1,351.2 L598.9,352.3 L596.7,353.4 L594.4,354.5 L592.2,355.7 L590.0,356.8 L587.8,357.9 L585.5,359.1 L583.3,360.2 L581.1,361.3 L578.9,362.5 L576.7,363.6 L574.4,364.8 L572.2,365.9 L570.0,367.0 L567.8,368.2 L565.5,369.3 L563.3,370.5 L561.1,371.6 L558.8,372.7 L556.6,373.9 L554.4,375.0 L552.1,376.1 L549.9,377.3 L547.6,378.4 L545.4,379.5 L543.2,380.6 L540.9,381.7 L538.7,382.8 L536.4,383.9 L534.2,385.1 L531.9,386.2 L529.7,387.3 L527.5,388.4 L525.2,389.5 L523.0,390.6 L520.7,391.7 L518.5,392.8 L516.3,393.9 L514.0,395.0 L511.8,396.1 L509.5,397.2 L507.3,398.3 L505.1,399.5 L502.9,400.6 L500.6,401.7 L498.4,402.8 L496.2,403.9 L494.0,405.1 L491.7,406.2 L489.5,407.3 L487.3,408.5 L485.1,409.6 L482.9,410.8 L480.7,412.0 L478.5,413.1 L476.3,414.3 L474.2,415.5 L472.0,416.7 L469.8,417.9 L467.6,419.1 L465.5,420.3 L463.3,421.5 L461.2,422.8 L459.0,424.0 L456.9,425.3 L454.8,426.5 L452.6,427.8 L450.5,429.1 L448.4,430.4 L446.3,431.7 L444.2,433.0 L442.0,434.3 L439.9,435.6 L437.8,436.9 L435.7,438.3 L433.6,439.6 L431.5,441.0 L429.5,442.3 L427.4,443.7 L425.3,445.0 L423.2,446.4 L421.1,447.8 L419.0,449.1 L416.9,450.5 L414.8,451.9 L412.7,453.2 L410.7,454.6 L408.6,456.0 L406.5,457.4 L404.4,458.7 L402.3,460.1 L400.2,461.5 L398.1,462.8 L396.0,464.2 L393.9,465.6 L391.7,466.9 L389.6,468.3 L387.5,469.6 L385.4,470.9 L383.3,472.3 L381.1,473.6 L379.0,474.9 L376.9,476.3 L374.8,477.6 L372.7,478.9 L370.6,480.2 L368.5,481.6 L366.4,482.9 L364.3,484.3 L362.2,485.6 L360.2,487.0 L358.1,488.3 L356.1,489.7 L354.1,491.1 L352.1,492.6 L350.1,494.0 L348.1,495.5 L346.1,496.9 L344.1,498.4 L342.2,499.9 L340.2,501.4 L338.3,503.0 L336.4,504.5 L334.5,506.0 L332.5,507.6 L330.6,509.2 L328.7,510.8 L326.8,512.4 L325.0,514.0 L323.1,515.6 L321.2,517.2 L319.3,518.9 L317.5,520.5 L315.6,522.2 L313.8,523.8 L311.9,525.5 L310.1,527.1 L308.2,528.8 L306.4,530.5 L304.6,532.2 L302.7,533.9 L300.9,535.5 L299.0,537.2 L297.2,538.9 L295.3,540.6 L293.5,542.3 L291.6,544.0 L289.8,545.7 L287.9,547.4 L286.0,549.0 L284.2,550.7 L282.3,552.4 L280.5,554.0 L278.6,555.7 L276.8,557.4 L275.0,559.1 L273.2,560.7 L271.4,562.4 L269.7,564.1 L267.9,565.9 L266.2,567.6 L264.6,569.3 L262.9,571.1 L261.3,572.9 L259.8,574.7 L258.2,576.6 L256.8,578.4 L255.3,580.3 L254.0,582.2 L252.6,584.2 L251.3,586.2 L250.1,588.2 L248.8,590.2 L247.7,592.3 L246.5,594.4 L245.5,596.5 L244.4,598.6 L243.4,600.8 L242.4,603.0 L241.5,605.2 L240.6,607.4 L239.8,609.6 L238.9,611.8 L238.1,614.1 L237.4,616.4 L236.7,618.6 L236.0,620.9 L235.3,623.2 L234.7,625.6 L234.0,627.9 L233.5,630.2 L232.9,632.6 L232.3,634.9 L231.8,637.3 L231.3,639.7 L230.8,642.1 L230.3,644.4 L229.9,646.8 L229.4,649.2 L229.0,651.6 L228.6,654.0 L228.2,656.4 L227.8,658.8 L227.5,661.2 L227.1,663.6 L226.8,666.0 L226.5,668.4 L226.2,670.8 L225.9,673.2 L225.7,675.6 L225.4,678.0 L225.2,680.4 L225.0,682.5Z" fill="#70ad47"/>
<path d="M221.0,670.7V670.7H224.4V652.4H227.9V635.7H231.3V623.4H234.8V611.5H238.2V603.7H241.6V591.9H245.1V584.3H248.5V575.8H252.0V568.5H255.4V562.1H258.8V556.4H262.3V551.3H265.7V546.7H269.2V538.8H272.6V538.3H276.0V532.6H279.5V528.9H282.9V527.2H286.4V523.7H289.8V516.7H293.2V517.1H296.7V513.9H300.1V510.8H303.6V507.8H307.0V502.9H310.4V500.0H313.9V499.1H317.3V496.4H320.8V490.1H324.2V487.4H327.6V486.6H331.1V484.0H334.5V481.5H338.0V479.1H341.4V476.7H344.8V474.3H348.3V472.0H351.7V469.7H355.2V467.4H358.6V465.2H362.0V463.0H365.5V460.8H368.9V460.6H372.4V458.5H375.8V456.4H379.2V452.4H382.7V450.4H386.1V450.3H389.6V446.4H393.0V444.4H396.4V442.4H399.9V442.4H403.3V440.5H406.8V438.6H410.2V436.7H413.6V434.9H417.1V433.1H420.5V429.4H424.0V427.6H427.4V425.8H430.8V424.0H434.3V424.2H437.7V422.5H441.2V420.8H444.6V419.1H448.0V415.5H451.5V413.9H454.9V412.2H458.4V408.9H461.8V407.3H465.2V405.7H468.7V405.8H472.1V404.3H475.6V402.7H479.0V401.2H482.4V399.7H485.9V398.2H489.3V396.7H492.8V395.2H496.2V395.7H499.6V394.2H503.1V389.2H506.5V389.5H510.0V390.0H513.4V388.6H516.8V387.2H520.3V385.8H523.7V384.5H527.2V379.5H530.6V381.8H534.0V378.6H537.5V375.6H540.9V374.3H544.4V376.6H547.8V375.4H551.2V374.1H554.7V372.9H558.1V371.7H561.6V370.4H565.0V369.2H568.4V368.0H571.9V363.3H575.3V363.8H578.8V362.6H582.2V363.4H585.6V360.3H589.1V359.2H592.5V358.1H596.0V357.0H599.4V355.9H602.8V356.7H606.3V355.6H609.7V354.6H613.2V353.5H616.6V350.6H620.0V351.5H623.5V350.4H626.9V345.8H630.4V344.8H633.8V343.8H637.2V342.9H640.7V345.5H644.1V342.6H647.6V341.7H651.0V340.7H654.4V339.8H657.9V338.9H661.3V338.0H664.8V337.1H668.2V336.2H671.6V335.3H675.1V334.4H678.5V335.4H682.0V334.6H685.4V331.8H688.8V331.0H692.3V332.1H695.7V331.2H699.2V330.4H702.6V327.7H706.0V326.9H709.5V326.1H712.9V325.4H716.4V324.6H719.8V323.8H723.2V323.1H726.7V322.3H730.1V323.5H733.6V322.8H737.0V322.0H740.4V321.3H743.9V320.6H747.3V318.0H750.8V315.6H754.2V315.0H757.6V316.0H761.1V315.3H764.5V314.6H768.0V314.0H771.4V313.3H774.8V312.7H778.3V313.9H781.7V313.3H785.2V312.7H788.6V312.0H792.0V307.8H795.5V310.8H798.9V310.2H802.4V309.6H805.8V309.0H809.2V308.4H812.7V305.9H816.1V307.2H819.6V306.6H823.0V306.0H826.4V305.4H829.9V304.8H833.3V304.2H836.8V301.8H840.2V301.2H843.6V300.6H847.1V300.0H850.5V299.5H854.0V298.9H857.4V298.3H860.8V297.8H864.3V297.2H867.7V298.5H871.2V298.0H874.6V295.5H878.0V295.0H881.5V294.4H884.9V293.8H888.4V293.3H891.8V294.6H895.2V294.1H898.7V293.5H902.1V293.0H905.6V292.4H909.0V290.0H912.4V289.4H915.9V288.8H919.3V288.3H922.8V287.7H926.2V287.2H929.6V286.7H933.1V288.0H936.5V287.5H940.0V285.0H943.4V284.5H946.8V284.0H950.3V283.5H953.7V282.9H957.2V282.4H960.6V283.8H964.0V283.3H967.5V282.8H970.9V280.4H974.4V279.9H977.8V279.4H981.2V278.9H984.7V278.4H988.1V276.3H991.6V275.8H995.0V277.0H998.4V276.6H1001.9V276.1H1005.3V277.6H1008.8V277.1H1012.2V276.7H1015.6V276.3H1019.1V275.9H1022.5V271.8H1026.0V271.4H1029.4V271.0H1032.8V274.3H1036.3V273.9H1039.7V273.5H1043.2V271.2H1046.6V272.8H1050.0V270.5H1053.5V272.1H1056.9V271.7H1060.4V271.4H1063.8V271.1H1067.2V270.8H1070.7V270.5H1074.1V270.2H1077.6V268.0H1081.0V269.6H1084.4V269.3H1087.9V269.1H1091.3V268.8H1094.8V265.0H1098.2V264.7H1101.6V266.2H1105.1V267.8H1108.5V267.6H1112.0V267.3H1115.4V267.1H1118.8V266.9H1122.3V264.8H1125.7V264.5H1129.2V264.3H1132.6V264.1H1136.0V263.9H1139.5V263.7H1142.9V263.5H1146.4V261.6H1149.8V261.4H1153.2V261.2H1156.7V262.6H1160.1V264.3H1163.6V264.1H1167.0V263.9H1170.4V263.7H1173.9V263.5H1177.3V263.3H1180.8V263.1H1184.2V262.9H1187.6V259.1H1191.1V258.8H1194.5V262.2H1198.0V262.0H1201.4V261.8H1204.8V261.5H1208.3V261.3H1211.7V261.1H1215.2V260.8H1218.6V260.6H1222.0V258.4H1225.5V258.2H1228.9V257.9H1232.4V259.6H1235.8V259.3H1239.2V259.0H1242.7V258.8H1246.1V258.5H1249.6V258.2H1253.0V257.9H1256.4V257.6H1259.9V253.7H1263.3V253.4H1266.8V254.8H1270.2V254.5H1273.6V256.1H1277.1V253.9H1280.5V253.6H1284.0V253.3H1287.4V254.9H1290.8V252.7H1294.3V252.3H1297.7V252.0H1301.2V251.7H1304.6V253.3H1308.0V253.0H1311.5V252.7H1314.9V252.4H1318.4V248.4H1321.8V248.1H1325.2V247.8H1328.7V247.5H1332.1V248.9H1335.6V248.6H1339.0V250.2H1342.4V249.9H1345.9V249.6H1349.3V249.3H1352.8V249.0H1356.2V246.8H1359.6V244.8H1363.1V244.5H1366.5V244.2H1370.0V243.9H1373.4V243.6H1376.8V243.4H1380.3V243.1H1383.7V244.5H1387.2V246.2H1390.6V245.9H1394.0V245.7H1397.5V245.4H1400.9V245.2H1404.4V243.0H1407.8V242.8H1411.2V244.4H1414.7V244.2H1418.1V244.0H1421.6V243.8H1425.0V243.6H1428.4V241.5H1431.9V241.3H1435.3V241.1H1438.8V240.9H1442.2V242.6H1445.6V242.4H1449.1V242.2H1452.5V242.0H1456.0V241.8H1459.4V241.7H1462.8V241.5H1466.3V239.4H1469.7V241.2H1473.2V241.0H1476.6V240.9H1480.0V240.7H1483.5V238.7H1486.9V236.8H1490.4V240.3H1493.8V240.1H1497.2V240.0H1500.7V239.9H1504.1V239.7H1507.6V236.0H1511.0V235.9H1514.4V235.7H1517.9V235.6H1521.3V239.1H1524.8V239.0H1528.2V238.8H1531.6V238.7H1535.1V238.6H1538.5V238.5H1542.0V238.4H1545.4V238.3H1548.8V238.2H1552.3V238.1H1555.7V238.0H1559.2V237.9H1562.6V237.8H1566.0V235.8H1569.5V235.7H1572.9V235.6H1576.4V235.5H1579.8V235.4H1583.2V235.3H1586.7V235.2H1590.1V235.1H1593.6V235.0H1597.0V234.9H1600.4V236.7H1603.9V234.7H1607.3V234.6H1610.8V234.5H1614.2V234.4H1617.6V232.6H1621.1V234.2H1624.5V232.4H1628.0V232.3H1631.4V234.0H1634.8V235.8H1638.3V235.7H1641.7V235.6H1645.2V231.9H1648.6V235.4H1652.0V233.4H1655.5V235.2H1658.9V235.1H1662.4V235.0H1665.8V234.9H1669.2V232.9H1672.7V234.7H1676.1V234.6H1679.6V234.5H1683.0V234.4H1686.4V234.3H1689.9V234.2H1693.3V234.1H1696.8V234.0H1700.2V233.9H1703.6V231.9H1707.1V233.7H1710.5V233.6H1714.0V233.5H1717.4V233.4H1720.8V229.7H1724.3V229.5H1727.7V231.1H1731.2V231.0H1734.6V230.9H1738.0V230.8H1741.5V230.6H1744.9V245.5H1741.5V245.6H1738.0V245.7H1734.6V249.4H1731.2V249.5H1727.7V249.7H1724.3V246.2H1720.8V246.3H1717.4V246.4H1714.0V246.5H1710.5V248.5H1707.1V248.6H1703.6V248.7H1700.2V248.8H1696.8V250.6H1693.3V247.1H1689.9V249.1H1686.4V247.3H1683.0V247.4H1679.6V247.5H1676.1V249.5H1672.7V249.6H1669.2V249.7H1665.8V247.9H1662.4V249.9H1658.9V251.7H1655.5V251.8H1652.0V251.9H1648.6V252.0H1645.2V252.1H1641.7V252.2H1638.3V248.7H1634.8V252.3H1631.4V252.4H1628.0V248.9H1624.5V249.0H1621.1V249.1H1617.6V252.8H1614.2V249.3H1610.8V249.4H1607.3V249.5H1603.9V249.6H1600.4V249.7H1597.0V249.8H1593.6V249.9H1590.1V250.0H1586.7V250.1H1583.2V250.2H1579.8V250.3H1576.4V252.3H1572.9V254.1H1569.5V250.6H1566.0V252.6H1562.6V252.7H1559.2V250.9H1555.7V251.0H1552.3V251.1H1548.8V253.1H1545.4V251.3H1542.0V251.4H1538.5V251.5H1535.1V251.7H1531.6V251.8H1528.2V251.9H1524.8V252.0H1521.3V252.1H1517.9V252.3H1514.4V252.4H1511.0V252.5H1507.6V254.6H1504.1V252.8H1500.7V252.9H1497.2V253.1H1493.8V253.2H1490.4V257.0H1486.9V257.1H1483.5V257.3H1480.0V257.4H1476.6V257.6H1473.2V257.8H1469.7V257.9H1466.3V258.1H1462.8V256.6H1459.4V256.7H1456.0V255.0H1452.5V255.2H1449.1V257.3H1445.6V257.5H1442.2V257.7H1438.8V257.9H1435.3V258.1H1431.9V256.4H1428.4V256.6H1425.0V256.8H1421.6V260.6H1418.1V259.2H1414.7V257.5H1411.2V257.7H1407.8V258.0H1404.4V258.2H1400.9V258.5H1397.5V262.3H1394.0V259.0H1390.6V259.3H1387.2V259.5H1383.7V259.8H1380.3V260.1H1376.8V262.3H1373.4V262.5H1370.0V262.8H1366.5V263.1H1363.1V263.4H1359.6V261.8H1356.2V264.0H1352.8V262.4H1349.3V266.3H1345.9V263.0H1342.4V263.3H1339.0V263.6H1335.6V263.9H1332.1V264.3H1328.7V266.5H1325.2V266.8H1321.8V265.2H1318.4V265.5H1314.9V265.8H1311.5V269.7H1308.0V270.1H1304.6V268.7H1301.2V267.1H1297.7V267.4H1294.3V267.7H1290.8V268.0H1287.4V268.3H1284.0V268.6H1280.5V268.9H1277.1V269.2H1273.6V269.5H1270.2V269.8H1266.8V270.1H1263.3V270.4H1259.9V274.3H1256.4V271.0H1253.0V273.2H1249.6V271.6H1246.1V271.9H1242.7V272.1H1239.2V272.4H1235.8V272.7H1232.4V272.9H1228.9V273.2H1225.5V273.4H1222.0V273.7H1218.6V273.9H1215.2V274.1H1211.7V274.4H1208.3V274.6H1204.8V276.7H1201.4V275.0H1198.0V275.3H1194.5V275.5H1191.1V275.7H1187.6V275.9H1184.2V276.1H1180.8V276.3H1177.3V276.5H1173.9V276.7H1170.4V278.9H1167.0V279.1H1163.6V279.3H1160.1V279.5H1156.7V279.7H1153.2V279.9H1149.8V280.1H1146.4V280.3H1142.9V280.5H1139.5V280.7H1136.0V280.9H1132.6V281.2H1129.2V281.4H1125.7V279.7H1122.3V279.9H1118.8V280.2H1115.4V280.4H1112.0V280.6H1108.5V280.9H1105.1V283.0H1101.6V285.0H1098.2V283.5H1094.8V281.9H1091.3V282.2H1087.9V282.4H1084.4V282.7H1081.0V286.6H1077.6V286.9H1074.1V287.2H1070.7V287.5H1067.2V286.1H1063.8V284.6H1060.4V284.9H1056.9V285.3H1053.5V285.6H1050.0V286.0H1046.6V288.2H1043.2V288.6H1039.7V287.1H1036.3V291.1H1032.8V289.8H1029.4V290.2H1026.0V290.6H1022.5V291.0H1019.1V291.5H1015.6V291.9H1012.2V292.3H1008.8V292.8H1005.3V293.2H1001.9V291.8H998.4V292.3H995.0V294.6H991.6V295.1H988.1V295.6H984.7V296.1H981.2V294.7H977.8V295.2H974.4V295.7H970.9V296.2H967.5V296.7H964.0V297.2H960.6V299.6H957.2V300.2H953.7V300.7H950.3V301.2H946.8V299.8H943.4V300.4H940.0V300.9H936.5V301.5H933.1V302.0H929.6V302.5H926.2V303.1H922.8V303.6H919.3V304.2H915.9V304.8H912.4V305.3H909.0V305.9H905.6V306.4H902.1V307.0H898.7V307.5H895.2V310.0H891.8V310.5H888.4V309.2H884.9V313.4H881.5V310.3H878.0V310.9H874.6V311.5H871.2V312.0H867.7V312.6H864.3V313.1H860.8V313.7H857.4V314.3H854.0V314.9H850.5V315.4H847.1V316.0H843.6V316.6H840.2V317.2H836.8V319.6H833.3V318.3H829.9V320.8H826.4V321.4H823.0V322.0H819.6V320.7H816.1V321.3H812.7V321.9H809.2V322.5H805.8V323.1H802.4V323.7H798.9V324.4H795.5V325.0H792.0V325.6H788.6V326.2H785.2V326.9H781.7V327.5H778.3V330.1H774.8V330.7H771.4V331.4H768.0V333.8H764.5V332.7H761.1V331.5H757.6V332.2H754.2V332.9H750.8V333.6H747.3V334.3H743.9V336.9H740.4V337.6H737.0V340.1H733.6V340.8H730.1V341.6H726.7V342.3H723.2V343.1H719.8V343.9H716.4V341.0H712.9V341.8H709.5V342.6H706.0V343.4H702.6V344.3H699.2V347.0H695.7V347.8H692.3V348.7H688.8V347.6H685.4V348.5H682.0V349.4H678.5V350.2H675.1V351.1H671.6V352.0H668.2V352.9H664.8V353.9H661.3V356.7H657.9V357.6H654.4V356.7H651.0V357.6H647.6V358.6H644.1V359.6H640.7V362.5H637.2V363.5H633.8V364.5H630.4V365.5H626.9V366.5H623.5V367.6H620.0V366.7H616.6V367.8H613.2V368.8H609.7V369.9H606.3V371.0H602.8V374.0H599.4V375.1H596.0V376.2H592.5V377.4H589.1V378.5H585.6V379.7H582.2V380.8H578.8V380.1H575.3V381.3H571.9V382.5H568.4V383.7H565.0V385.0H561.6V386.2H558.1V387.4H554.7V388.7H551.2V391.9H547.8V391.3H544.4V394.5H540.9V395.8H537.5V395.2H534.0V396.5H530.6V399.8H527.2V399.2H523.7V400.6H520.3V402.0H516.8V403.4H513.4V404.8H510.0V406.2H506.5V407.7H503.1V409.1H499.6V410.6H496.2V412.1H492.8V413.6H489.3V417.0H485.9V418.5H482.4V418.2H479.0V419.7H475.6V421.3H472.1V422.9H468.7V424.5H465.2V426.1H461.8V429.7H458.4V431.3H454.9V433.0H451.5V434.7H448.0V434.5H444.6V436.2H441.2V438.0H437.7V439.7H434.3V443.4H430.8V446.9H427.4V447.0H424.0V450.5H420.5V452.4H417.1V454.2H413.6V456.1H410.2V454.5H406.8V456.4H403.3V458.3H399.9V460.3H396.4V462.3H393.0V464.3H389.6V466.4H386.1V472.0H382.7V474.1H379.2V472.7H375.8V474.8H372.4V477.0H368.9V479.2H365.5V481.4H362.0V483.7H358.6V486.0H355.2V490.2H351.7V490.7H348.3V495.0H344.8V497.5H341.4V500.0H338.0V502.6H334.5V505.2H331.1V505.9H327.6V508.7H324.2V511.4H320.8V514.3H317.3V517.2H313.9V520.2H310.4V523.2H307.0V526.4H303.6V529.6H300.1V534.8H296.7V538.3H293.2V541.8H289.8V545.5H286.4V549.3H282.9V553.3H279.5V557.5H276.0V563.8H272.6V568.9H269.2V574.6H265.7V579.3H262.3V584.9H258.8V595.4H255.4V605.0H252.0V615.0H248.5V624.6H245.1V634.8H241.6V648.2H238.2V663.8H234.8V681.9H231.3V695.7H227.9V734.2H224.4V734.2H221.0Z" fill="#ed7d31" fill-opacity="0.6"/>
<path d="M217.0,729.2 L217.1,724.3 L217.2,720.0 L217.4,716.3 L217.5,713.1 L217.6,710.3 L217.7,707.9 L217.9,705.4 L218.0,703.0 L218.2,700.6 L218.4,698.2 L218.7,695.9 L219.1,693.5 L219.6,691.1 L220.2,688.7 L220.9,686.4 L221.6,684.0 L222.2,681.5 L222.7,679.0 L223.3,676.6 L223.7,674.1 L224.2,671.7 L224.7,669.2 L225.2,666.7 L225.6,664.3 L226.1,661.8 L226.6,659.4 L227.0,656.9 L227.5,654.5 L228.0,652.0 L228.4,649.5 L228.9,647.1 L229.4,644.7 L229.9,642.2 L230.4,639.8 L230.9,637.3 L231.5,634.9 L232.1,632.5 L232.7,630.1 L233.4,627.7 L234.1,625.3 L234.9,622.9 L235.7,620.5 L236.5,618.2 L237.3,615.8 L238.2,613.4 L239.0,611.1 L239.9,608.7 L240.7,606.4 L241.5,604.0 L242.3,601.7 L243.2,599.3 L244.0,596.9 L244.8,594.6 L245.6,592.2 L246.5,589.9 L247.3,587.5 L248.2,585.1 L249.1,582.8 L250.0,580.5 L251.0,578.1 L252.0,575.8 L253.0,573.5 L254.1,571.2 L255.2,569.0 L256.3,566.7 L257.5,564.5 L258.7,562.3 L260.0,560.1 L261.3,557.9 L262.7,555.8 L264.1,553.6 L265.6,551.5 L267.0,549.5 L268.6,547.4 L270.1,545.4 L271.7,543.5 L273.3,541.5 L275.0,539.6 L276.6,537.7 L278.3,535.8 L280.0,533.9 L281.7,532.0 L283.4,530.2 L285.2,528.4 L286.9,526.6 L288.7,524.8 L290.5,523.0 L292.3,521.2 L294.1,519.5 L295.9,517.7 L297.8,516.0 L299.6,514.3 L301.5,512.6 L303.4,510.9 L305.3,509.3 L307.2,507.6 L309.1,506.0 L311.0,504.3 L312.9,502.7 L314.9,501.1 L316.8,499.5 L318.8,497.9 L320.8,496.4 L322.7,494.8 L324.7,493.3 L326.7,491.7 L328.7,490.2 L330.7,488.7 L332.8,487.2 L334.8,485.7 L336.8,484.2 L338.9,482.8 L340.9,481.3 L343.0,479.9 L345.0,478.4 L347.1,477.0 L349.2,475.6 L351.3,474.2 L353.3,472.8 L355.4,471.4 L357.5,470.0 L359.6,468.6 L361.8,467.3 L363.9,465.9 L366.0,464.6 L368.1,463.2 L370.2,461.9 L372.4,460.6 L374.5,459.2 L376.7,457.9 L378.8,456.6 L381.0,455.3 L383.1,454.1 L385.3,452.8 L387.4,451.5 L389.6,450.2 L391.8,449.0 L393.9,447.7 L396.1,446.5 L398.3,445.2 L400.5,444.0 L402.7,442.8 L404.9,441.5 L407.1,440.3 L409.3,439.1 L411.5,437.9 L413.7,436.7 L415.9,435.5 L418.1,434.4 L420.3,433.2 L422.5,432.0 L424.8,430.8 L427.0,429.7 L429.2,428.5 L431.4,427.4 L433.7,426.2 L435.9,425.1 L438.2,424.0 L440.4,422.9 L442.6,421.7 L444.9,420.6 L447.1,419.5 L449.4,418.4 L451.7,417.3 L453.9,416.2 L456.2,415.2 L458.4,414.1 L460.7,413.0 L463.0,411.9 L465.3,410.9 L467.5,409.8 L469.8,408.8 L472.1,407.7 L474.4,406.7 L476.7,405.7 L479.0,404.6 L481.2,403.6 L483.5,402.6 L485.8,401.6 L488.1,400.6 L490.4,399.6 L492.7,398.6 L495.0,397.6 L497.4,396.6 L499.7,395.7 L502.0,394.7 L504.3,393.7 L506.6,392.8 L508.9,391.8 L511.2,390.8 L513.6,389.9 L515.9,389.0 L518.2,388.0 L520.5,387.1 L522.9,386.2 L525.2,385.2 L527.5,384.3 L529.9,383.4 L532.2,382.5 L534.6,381.6 L536.9,380.7 L539.2,379.8 L541.6,379.0 L543.9,378.1 L546.3,377.2 L548.6,376.3 L551.0,375.5 L553.4,374.6 L555.7,373.8 L558.1,372.9 L560.4,372.1 L562.8,371.2 L565.2,370.4 L567.5,369.6 L569.9,368.7 L572.3,367.9 L574.6,367.1 L577.0,366.3 L579.4,365.5 L581.8,364.7 L584.1,363.9 L586.5,363.1 L588.9,362.3 L591.3,361.5 L593.7,360.7 L596.0,360.0 L598.4,359.2 L600.8,358.4 L603.2,357.7 L605.6,356.9 L608.0,356.2 L610.4,355.4 L612.8,354.7 L615.2,354.0 L617.6,353.2 L620.0,352.5 L622.4,351.8 L624.8,351.1 L627.2,350.4 L629.6,349.7 L632.0,349.0 L634.4,348.3 L636.8,347.6 L639.2,346.9 L641.6,346.2 L644.0,345.5 L646.5,344.8 L648.9,344.2 L651.3,343.5 L653.7,342.8 L656.1,342.2 L658.5,341.5 L661.0,340.9 L663.4,340.2 L665.8,339.6 L668.2,338.9 L670.7,338.3 L673.1,337.7 L675.5,337.1 L677.9,336.4 L680.4,335.8 L682.8,335.2 L685.2,334.6 L687.7,334.0 L690.1,333.4 L692.5,332.8 L695.0,332.2 L697.4,331.6 L699.9,331.1 L702.3,330.5 L704.7,329.9 L707.2,329.3 L709.6,328.8 L712.1,328.2 L714.5,327.7 L717.0,327.1 L719.4,326.6 L721.8,326.0 L724.3,325.5 L726.7,325.0 L729.2,324.4 L731.6,323.9 L734.1,323.4 L736.5,322.9 L739.0,322.3 L741.4,321.8 L743.9,321.3 L746.4,320.8 L748.8,320.3 L751.3,319.8 L753.7,319.3 L756.2,318.8 L758.6,318.4 L761.1,317.9 L763.6,317.4 L766.0,316.9 L768.5,316.4 L770.9,316.0 L773.4,315.5 L775.9,315.0 L778.3,314.6 L780.8,314.1 L783.2,313.7 L785.7,313.2 L788.2,312.8 L790.6,312.3 L793.1,311.9 L795.5,311.4 L798.0,311.0 L800.5,310.5 L802.9,310.1 L805.4,309.6 L807.9,309.2 L810.3,308.8 L812.8,308.4 L815.3,307.9 L817.7,307.5 L820.2,307.1 L822.7,306.6 L825.1,306.2 L827.6,305.8 L830.1,305.4 L832.5,305.0 L835.0,304.5 L837.5,304.1 L839.9,303.7 L842.4,303.3 L844.9,302.9 L847.3,302.5 L849.8,302.1 L852.3,301.7 L854.7,301.2 L857.2,300.8 L859.7,300.4 L862.1,300.0 L864.6,299.6 L867.1,299.2 L869.5,298.8 L872.0,298.4 L874.5,298.0 L876.9,297.6 L879.4,297.2 L881.9,296.8 L884.4,296.4 L886.8,296.0 L889.3,295.6 L891.8,295.2 L894.2,294.8 L896.7,294.4 L899.2,294.0 L901.6,293.6 L904.1,293.2 L906.6,292.8 L909.0,292.4 L911.5,292.0 L914.0,291.6 L916.4,291.2 L918.9,290.8 L921.4,290.4 L923.9,290.0 L926.3,289.6 L928.8,289.2 L931.3,288.8 L933.7,288.5 L936.2,288.1 L938.7,287.7 L941.2,287.3 L943.6,286.9 L946.1,286.5 L948.6,286.1 L951.0,285.8 L953.5,285.4 L956.0,285.0 L958.5,284.6 L960.9,284.3 L963.4,283.9 L965.9,283.5 L968.4,283.2 L970.9,282.8 L973.3,282.4 L975.8,282.1 L978.3,281.7 L980.8,281.4 L983.2,281.0 L985.7,280.7 L988.2,280.3 L990.7,280.0 L993.2,279.6 L995.6,279.3 L998.1,279.0 L1000.6,278.6 L1003.1,278.3 L1005.6,278.0 L1008.1,277.7 L1010.5,277.3 L1013.0,277.0 L1015.5,276.7 L1018.0,276.4 L1020.5,276.1 L1023.0,275.8 L1025.5,275.5 L1028.0,275.2 L1030.4,274.9 L1032.9,274.6 L1035.4,274.4 L1037.9,274.1 L1040.4,273.8 L1042.9,273.5 L1045.4,273.3 L1047.9,273.0 L1050.4,272.7 L1052.9,272.5 L1055.4,272.2 L1057.9,272.0 L1060.4,271.7 L1062.8,271.5 L1065.3,271.3 L1067.8,271.0 L1070.3,270.8 L1072.8,270.6 L1075.3,270.4 L1077.8,270.2 L1080.3,270.0 L1082.8,269.7 L1085.3,269.5 L1087.8,269.3 L1090.3,269.1 L1092.8,269.0 L1095.3,268.8 L1097.8,268.6 L1100.3,268.4 L1102.8,268.2 L1105.3,268.0 L1107.8,267.9 L1110.3,267.7 L1112.8,267.5 L1115.3,267.4 L1117.8,267.2 L1120.3,267.0 L1122.8,266.9 L1125.3,266.7 L1127.8,266.5 L1130.3,266.4 L1132.8,266.2 L1135.3,266.1 L1137.8,265.9 L1140.3,265.8 L1142.8,265.6 L1145.3,265.4 L1147.7,265.3 L1150.2,265.1 L1152.7,265.0 L1155.2,264.8 L1157.7,264.7 L1160.2,264.5 L1162.7,264.4 L1165.2,264.2 L1167.7,264.1 L1170.2,263.9 L1172.7,263.8 L1175.2,263.6 L1177.7,263.5 L1180.2,263.3 L1182.7,263.2 L1185.2,263.0 L1187.7,262.9 L1190.2,262.7 L1192.7,262.6 L1195.1,262.4 L1197.6,262.2 L1200.1,262.1 L1202.6,261.9 L1205.1,261.8 L1207.6,261.6 L1210.1,261.4 L1212.6,261.2 L1215.1,261.1 L1217.6,260.9 L1220.1,260.7 L1222.6,260.6 L1225.0,260.4 L1227.5,260.2 L1230.0,260.0 L1232.5,259.8 L1235.0,259.6 L1237.5,259.4 L1240.0,259.2 L1242.5,259.0 L1245.0,258.8 L1247.4,258.6 L1249.9,258.4 L1252.4,258.2 L1254.9,258.0 L1257.4,257.8 L1259.9,257.6 L1262.4,257.4 L1264.9,257.2 L1267.4,257.0 L1269.8,256.7 L1272.3,256.5 L1274.8,256.3 L1277.3,256.1 L1279.8,255.9 L1282.3,255.6 L1284.8,255.4 L1287.3,255.2 L1289.7,255.0 L1292.2,254.7 L1294.7,254.5 L1297.2,254.3 L1299.7,254.1 L1302.2,253.8 L1304.7,253.6 L1307.2,253.4 L1309.7,253.2 L1312.2,252.9 L1314.6,252.7 L1317.1,252.5 L1319.6,252.2 L1322.1,252.0 L1324.6,251.8 L1327.1,251.6 L1329.6,251.3 L1332.1,251.1 L1334.6,250.9 L1337.1,250.7 L1339.5,250.4 L1342.0,250.2 L1344.5,250.0 L1347.0,249.8 L1349.5,249.6 L1352.0,249.3 L1354.5,249.1 L1357.0,248.9 L1359.5,248.7 L1362.0,248.5 L1364.5,248.3 L1367.0,248.1 L1369.5,247.9 L1372.0,247.6 L1374.4,247.4 L1376.9,247.2 L1379.4,247.0 L1381.9,246.8 L1384.4,246.6 L1386.9,246.5 L1389.4,246.3 L1391.9,246.1 L1394.4,245.9 L1396.9,245.7 L1399.4,245.5 L1401.9,245.3 L1404.4,245.2 L1406.9,245.0 L1409.4,244.8 L1411.9,244.6 L1414.4,244.5 L1416.9,244.3 L1419.4,244.1 L1421.9,244.0 L1424.4,243.8 L1426.9,243.7 L1429.4,243.5 L1431.9,243.4 L1434.4,243.2 L1436.9,243.1 L1439.4,242.9 L1441.9,242.8 L1444.4,242.6 L1446.9,242.5 L1449.4,242.4 L1451.9,242.2 L1454.4,242.1 L1456.9,242.0 L1459.4,241.8 L1461.9,241.7 L1464.4,241.6 L1466.9,241.5 L1469.4,241.4 L1471.9,241.2 L1474.4,241.1 L1476.9,241.0 L1479.4,240.9 L1481.9,240.8 L1484.4,240.7 L1486.9,240.6 L1489.4,240.5 L1491.9,240.4 L1494.4,240.2 L1496.9,240.1 L1499.4,240.0 L1501.9,239.9 L1504.4,239.8 L1506.9,239.7 L1509.4,239.7 L1511.9,239.6 L1514.4,239.5 L1516.9,239.4 L1519.4,239.3 L1521.9,239.2 L1524.4,239.1 L1526.9,239.0 L1529.4,238.9 L1531.9,238.8 L1534.4,238.8 L1536.9,238.7 L1539.4,238.6 L1541.9,238.5 L1544.4,238.4 L1546.9,238.3 L1549.4,238.3 L1551.9,238.2 L1554.4,238.1 L1556.9,238.0 L1559.4,238.0 L1561.9,237.9 L1564.4,237.8 L1566.9,237.7 L1569.4,237.7 L1571.9,237.6 L1574.4,237.5 L1576.9,237.4 L1579.4,237.4 L1581.9,237.3 L1584.4,237.2 L1586.9,237.2 L1589.4,237.1 L1591.9,237.0 L1594.4,236.9 L1596.9,236.9 L1599.4,236.8 L1601.9,236.7 L1604.4,236.7 L1606.9,236.6 L1609.4,236.5 L1611.9,236.5 L1614.4,236.4 L1616.9,236.3 L1619.4,236.3 L1621.9,236.2 L1624.4,236.1 L1626.9,236.1 L1629.4,236.0 L1631.9,235.9 L1634.4,235.9 L1636.9,235.8 L1639.4,235.7 L1641.9,235.7 L1644.4,235.6 L1646.9,235.5 L1649.4,235.5 L1651.9,235.4 L1654.4,235.3 L1656.9,235.3 L1659.4,235.2 L1661.9,235.1 L1664.4,235.1 L1666.9,235.0 L1669.4,234.9 L1671.8,234.8 L1674.3,234.8 L1676.8,234.7 L1679.3,234.6 L1681.8,234.6 L1684.3,234.5 L1686.8,234.4 L1689.3,234.3 L1691.8,234.3 L1694.3,234.2 L1696.8,234.1 L1699.3,234.0 L1701.8,234.0 L1704.3,233.9 L1706.8,233.8 L1709.3,233.7 L1711.8,233.7 L1714.3,233.6 L1716.8,233.5 L1719.3,233.4 L1721.8,233.3 L1724.3,233.3 L1726.8,233.2 L1729.3,233.1 L1731.8,233.0 L1734.3,232.9 L1736.8,232.8 L1739.3,232.7 L1741.8,232.6 L1744.3,232.6 L1744.9,232.5 L1745.1,245.3 L1744.6,245.4 L1742.1,245.4 L1739.6,245.5 L1737.1,245.6 L1734.6,245.7 L1732.1,245.8 L1729.6,245.9 L1727.1,246.0 L1724.6,246.0 L1722.1,246.1 L1719.6,246.2 L1717.1,246.3 L1714.6,246.4 L1712.1,246.5 L1709.6,246.5 L1707.1,246.6 L1704.6,246.7 L1702.1,246.8 L1699.6,246.8 L1697.1,246.9 L1694.6,247.0 L1692.1,247.1 L1689.6,247.1 L1687.1,247.2 L1684.6,247.3 L1682.1,247.4 L1679.6,247.4 L1677.1,247.5 L1674.6,247.6 L1672.1,247.6 L1669.6,247.7 L1667.1,247.8 L1664.6,247.8 L1662.1,247.9 L1659.6,248.0 L1657.1,248.1 L1654.6,248.1 L1652.1,248.2 L1649.6,248.3 L1647.1,248.3 L1644.6,248.4 L1642.1,248.5 L1639.6,248.5 L1637.1,248.6 L1634.6,248.7 L1632.1,248.7 L1629.6,248.8 L1627.1,248.9 L1624.6,248.9 L1622.1,249.0 L1619.6,249.1 L1617.1,249.1 L1614.6,249.2 L1612.1,249.3 L1609.6,249.3 L1607.1,249.4 L1604.6,249.5 L1602.1,249.5 L1599.6,249.6 L1597.1,249.7 L1594.6,249.7 L1592.1,249.8 L1589.6,249.9 L1587.1,250.0 L1584.6,250.0 L1582.1,250.1 L1579.6,250.2 L1577.1,250.2 L1574.6,250.3 L1572.1,250.4 L1569.6,250.5 L1567.1,250.5 L1564.6,250.6 L1562.1,250.7 L1559.6,250.8 L1557.1,250.8 L1554.6,250.9 L1552.1,251.0 L1549.6,251.1 L1547.1,251.1 L1544.6,251.2 L1542.1,251.3 L1539.6,251.4 L1537.2,251.5 L1534.7,251.5 L1532.2,251.6 L1529.7,251.7 L1527.2,251.8 L1524.7,251.9 L1522.2,252.0 L1519.7,252.1 L1517.2,252.2 L1514.7,252.3 L1512.2,252.3 L1509.7,252.4 L1507.2,252.5 L1504.7,252.6 L1502.2,252.7 L1499.7,252.8 L1497.2,252.9 L1494.7,253.0 L1492.2,253.1 L1489.7,253.2 L1487.2,253.4 L1484.7,253.5 L1482.2,253.6 L1479.7,253.7 L1477.2,253.8 L1474.8,253.9 L1472.3,254.0 L1469.8,254.1 L1467.3,254.3 L1464.8,254.4 L1462.3,254.5 L1459.8,254.6 L1457.3,254.8 L1454.8,254.9 L1452.3,255.0 L1449.8,255.2 L1447.3,255.3 L1444.8,255.4 L1442.3,255.6 L1439.8,255.7 L1437.3,255.9 L1434.9,256.0 L1432.4,256.2 L1429.9,256.3 L1427.4,256.5 L1424.9,256.6 L1422.4,256.8 L1419.9,256.9 L1417.4,257.1 L1414.9,257.3 L1412.4,257.4 L1409.9,257.6 L1407.5,257.8 L1405.0,257.9 L1402.5,258.1 L1400.0,258.3 L1397.5,258.5 L1395.0,258.7 L1392.5,258.8 L1390.0,259.0 L1387.5,259.2 L1385.1,259.4 L1382.6,259.6 L1380.1,259.8 L1377.6,260.0 L1375.1,260.2 L1372.6,260.4 L1370.1,260.6 L1367.6,260.8 L1365.1,261.0 L1362.7,261.3 L1360.2,261.5 L1357.7,261.7 L1355.2,261.9 L1352.7,262.1 L1350.2,262.3 L1347.7,262.5 L1345.2,262.8 L1342.7,263.0 L1340.3,263.2 L1337.8,263.4 L1335.3,263.7 L1332.8,263.9 L1330.3,264.1 L1327.8,264.3 L1325.3,264.6 L1322.8,264.8 L1320.3,265.0 L1317.9,265.2 L1315.4,265.5 L1312.9,265.7 L1310.4,265.9 L1307.9,266.1 L1305.4,266.4 L1302.9,266.6 L1300.4,266.8 L1297.9,267.1 L1295.5,267.3 L1293.0,267.5 L1290.5,267.7 L1288.0,268.0 L1285.5,268.2 L1283.0,268.4 L1280.5,268.6 L1278.0,268.9 L1275.5,269.1 L1273.0,269.3 L1270.5,269.5 L1268.0,269.7 L1265.6,270.0 L1263.1,270.2 L1260.6,270.4 L1258.1,270.6 L1255.6,270.8 L1253.1,271.0 L1250.6,271.2 L1248.1,271.4 L1245.6,271.6 L1243.1,271.8 L1240.6,272.0 L1238.1,272.2 L1235.6,272.4 L1233.1,272.6 L1230.6,272.8 L1228.1,273.0 L1225.6,273.2 L1223.1,273.3 L1220.6,273.5 L1218.1,273.7 L1215.6,273.9 L1213.1,274.0 L1210.6,274.2 L1208.1,274.4 L1205.6,274.5 L1203.1,274.7 L1200.7,274.9 L1198.2,275.0 L1195.7,275.2 L1193.2,275.3 L1190.7,275.5 L1188.2,275.7 L1185.7,275.8 L1183.2,276.0 L1180.7,276.1 L1178.2,276.3 L1175.7,276.4 L1173.2,276.6 L1170.7,276.7 L1168.2,276.9 L1165.7,277.0 L1163.2,277.2 L1160.7,277.3 L1158.2,277.5 L1155.7,277.6 L1153.2,277.8 L1150.7,277.9 L1148.2,278.1 L1145.7,278.2 L1143.2,278.4 L1140.7,278.5 L1138.3,278.7 L1135.8,278.8 L1133.3,279.0 L1130.8,279.2 L1128.3,279.3 L1125.8,279.5 L1123.3,279.6 L1120.8,279.8 L1118.3,280.0 L1115.8,280.1 L1113.3,280.3 L1110.8,280.5 L1108.4,280.6 L1105.9,280.8 L1103.4,281.0 L1100.9,281.2 L1098.4,281.4 L1095.9,281.5 L1093.4,281.7 L1090.9,281.9 L1088.4,282.1 L1086.0,282.3 L1083.5,282.5 L1081.0,282.7 L1078.5,282.9 L1076.0,283.1 L1073.5,283.4 L1071.0,283.6 L1068.6,283.8 L1066.1,284.0 L1063.6,284.3 L1061.1,284.5 L1058.6,284.7 L1056.2,285.0 L1053.7,285.2 L1051.2,285.5 L1048.7,285.8 L1046.2,286.0 L1043.8,286.3 L1041.3,286.5 L1038.8,286.8 L1036.3,287.1 L1033.8,287.4 L1031.4,287.7 L1028.9,288.0 L1026.4,288.3 L1023.9,288.5 L1021.5,288.8 L1019.0,289.2 L1016.5,289.5 L1014.0,289.8 L1011.6,290.1 L1009.1,290.4 L1006.6,290.7 L1004.1,291.0 L1001.7,291.4 L999.2,291.7 L996.7,292.0 L994.2,292.4 L991.8,292.7 L989.3,293.1 L986.8,293.4 L984.4,293.7 L981.9,294.1 L979.4,294.4 L976.9,294.8 L974.5,295.2 L972.0,295.5 L969.5,295.9 L967.1,296.2 L964.6,296.6 L962.1,297.0 L959.7,297.4 L957.2,297.7 L954.7,298.1 L952.3,298.5 L949.8,298.9 L947.3,299.2 L944.9,299.6 L942.4,300.0 L939.9,300.4 L937.5,300.8 L935.0,301.2 L932.5,301.5 L930.0,301.9 L927.6,302.3 L925.1,302.7 L922.6,303.1 L920.2,303.5 L917.7,303.9 L915.2,304.3 L912.8,304.7 L910.3,305.1 L907.8,305.5 L905.4,305.9 L902.9,306.3 L900.4,306.7 L898.0,307.1 L895.5,307.5 L893.0,307.9 L890.6,308.3 L888.1,308.7 L885.6,309.1 L883.2,309.5 L880.7,309.9 L878.2,310.3 L875.8,310.7 L873.3,311.1 L870.8,311.5 L868.4,311.9 L865.9,312.3 L863.4,312.7 L861.0,313.1 L858.5,313.5 L856.0,313.9 L853.6,314.3 L851.1,314.8 L848.6,315.2 L846.2,315.6 L843.7,316.0 L841.3,316.4 L838.8,316.8 L836.3,317.2 L833.9,317.6 L831.4,318.1 L828.9,318.5 L826.5,318.9 L824.0,319.3 L821.6,319.8 L819.1,320.2 L816.6,320.6 L814.2,321.0 L811.7,321.5 L809.3,321.9 L806.8,322.3 L804.3,322.8 L801.9,323.2 L799.4,323.6 L797.0,324.1 L794.5,324.5 L792.1,325.0 L789.6,325.4 L787.1,325.9 L784.7,326.3 L782.2,326.8 L779.8,327.2 L777.3,327.7 L774.9,328.2 L772.4,328.6 L770.0,329.1 L767.5,329.6 L765.1,330.0 L762.6,330.5 L760.2,331.0 L757.7,331.5 L755.3,332.0 L752.8,332.5 L750.4,333.0 L748.0,333.5 L745.5,334.0 L743.1,334.5 L740.6,335.0 L738.2,335.5 L735.8,336.0 L733.3,336.5 L730.9,337.0 L728.4,337.6 L726.0,338.1 L723.6,338.6 L721.1,339.2 L718.7,339.7 L716.3,340.3 L713.8,340.8 L711.4,341.4 L709.0,341.9 L706.6,342.5 L704.1,343.1 L701.7,343.6 L699.3,344.2 L696.9,344.8 L694.4,345.4 L692.0,346.0 L689.6,346.6 L687.2,347.2 L684.8,347.8 L682.3,348.4 L679.9,349.0 L677.5,349.6 L675.1,350.2 L672.7,350.9 L670.3,351.5 L667.9,352.1 L665.4,352.8 L663.0,353.4 L660.6,354.0 L658.2,354.7 L655.8,355.3 L653.4,356.0 L651.0,356.7 L648.6,357.3 L646.2,358.0 L643.8,358.7 L641.4,359.4 L639.0,360.0 L636.6,360.7 L634.2,361.4 L631.8,362.1 L629.4,362.8 L627.1,363.5 L624.7,364.3 L622.3,365.0 L619.9,365.7 L617.5,366.4 L615.1,367.1 L612.8,367.9 L610.4,368.6 L608.0,369.4 L605.6,370.1 L603.2,370.9 L600.9,371.6 L598.5,372.4 L596.1,373.2 L593.8,373.9 L591.4,374.7 L589.0,375.5 L586.7,376.3 L584.3,377.1 L581.9,377.9 L579.6,378.7 L577.2,379.5 L574.9,380.3 L572.5,381.1 L570.2,381.9 L567.8,382.7 L565.5,383.6 L563.1,384.4 L560.8,385.2 L558.4,386.1 L556.1,386.9 L553.7,387.8 L551.4,388.6 L549.1,389.5 L546.7,390.4 L544.4,391.2 L542.1,392.1 L539.7,393.0 L537.4,393.9 L535.1,394.8 L532.8,395.7 L530.5,396.6 L528.1,397.5 L525.8,398.4 L523.5,399.3 L521.2,400.3 L518.9,401.2 L516.6,402.1 L514.3,403.1 L512.0,404.0 L509.7,404.9 L507.4,405.9 L505.1,406.9 L502.8,407.8 L500.5,408.8 L498.2,409.8 L495.9,410.7 L493.6,411.7 L491.3,412.7 L489.0,413.7 L486.8,414.7 L484.5,415.7 L482.2,416.7 L479.9,417.8 L477.7,418.8 L475.4,419.8 L473.1,420.9 L470.9,421.9 L468.6,422.9 L466.4,424.0 L464.1,425.0 L461.9,426.1 L459.6,427.2 L457.4,428.2 L455.1,429.3 L452.9,430.4 L450.7,431.5 L448.4,432.6 L446.2,433.7 L444.0,434.8 L441.7,435.9 L439.5,437.0 L437.3,438.2 L435.1,439.3 L432.9,440.4 L430.7,441.6 L428.5,442.7 L426.3,443.9 L424.1,445.0 L421.9,446.2 L419.7,447.4 L417.5,448.6 L415.3,449.7 L413.1,450.9 L410.9,452.1 L408.8,453.3 L406.6,454.6 L404.4,455.8 L402.2,457.0 L400.1,458.2 L397.9,459.5 L395.8,460.7 L393.6,461.9 L391.5,463.2 L389.3,464.5 L387.2,465.7 L385.1,467.0 L382.9,468.3 L380.8,469.6 L378.7,470.9 L376.6,472.2 L374.5,473.5 L372.4,474.8 L370.3,476.1 L368.2,477.5 L366.1,478.8 L364.0,480.1 L361.9,481.5 L359.9,482.9 L357.8,484.2 L355.7,485.6 L353.7,487.0 L351.6,488.4 L349.6,489.8 L347.6,491.2 L345.5,492.6 L343.5,494.1 L341.5,495.5 L339.5,497.0 L337.5,498.4 L335.5,499.9 L333.5,501.4 L331.6,502.9 L329.6,504.4 L327.7,505.9 L325.7,507.5 L323.8,509.0 L321.9,510.5 L320.0,512.1 L318.0,513.7 L316.2,515.3 L314.3,516.9 L312.4,518.5 L310.5,520.1 L308.7,521.7 L306.9,523.4 L305.0,525.0 L303.2,526.7 L301.4,528.4 L299.6,530.1 L297.9,531.8 L296.1,533.5 L294.4,535.2 L292.7,537.0 L290.9,538.7 L289.2,540.5 L287.6,542.3 L285.9,544.1 L284.3,545.9 L282.6,547.7 L281.0,549.6 L279.5,551.4 L277.9,553.3 L276.4,555.2 L274.9,557.1 L273.5,559.0 L272.1,561.0 L270.7,562.9 L269.4,564.9 L268.1,566.9 L266.9,569.0 L265.7,571.0 L264.5,573.1 L263.4,575.2 L262.3,577.3 L261.3,579.5 L260.3,581.6 L259.3,583.8 L258.4,586.0 L257.4,588.3 L256.6,590.5 L255.7,592.8 L254.8,595.1 L254.0,597.4 L253.2,599.7 L252.3,602.0 L251.5,604.4 L250.7,606.7 L249.9,609.1 L249.1,611.4 L248.3,613.8 L247.4,616.2 L246.6,618.6 L245.7,621.0 L244.9,623.3 L244.0,625.6 L243.3,627.9 L242.5,630.2 L241.8,632.4 L241.1,634.7 L240.5,637.0 L239.9,639.3 L239.3,641.6 L238.7,643.9 L238.2,646.3 L237.7,648.6 L237.2,651.0 L236.7,653.4 L236.3,655.9 L235.8,658.3 L235.3,660.7 L234.9,663.2 L234.4,665.6 L234.0,668.1 L233.5,670.6 L233.0,673.0 L232.6,675.5 L232.1,678.0 L231.6,680.5 L231.1,683.0 L230.6,685.5 L230.0,688.1 L229.4,690.7 L228.6,693.5 L227.9,695.9 L227.3,697.8 L226.9,699.7 L226.6,701.7 L226.4,703.9 L226.2,706.1 L226.0,708.4 L225.8,710.7 L225.7,713.1 L225.6,715.5 L225.5,718.3 L225.4,721.4 L225.2,725.1 L225.1,729.3 L225.0,734.2Z" fill="#ed7d31"/>
<path d="M221.0,661.0V661.0H224.4V645.6H227.9V634.4H231.3V625.0H234.8V618.5H238.2V611.4H241.6V606.8H245.1V601.0H248.5V595.6H252.0V590.7H255.4V586.1H258.8V578.2H262.3V574.2H265.7V570.4H269.2V566.8H272.6V563.3H276.0V563.6H279.5V560.5H282.9V557.5H286.4V552.6H289.8V549.8H293.2V549.0H296.7V546.3H300.1V543.7H303.6V541.1H307.0V538.7H310.4V536.2H313.9V533.8H317.3V529.6H320.8V527.3H324.2V526.9H327.6V521.0H331.1V522.4H334.5V518.3H338.0V518.0H341.4V515.8H344.8V513.6H348.3V509.6H351.7V507.4H355.2V505.3H358.6V505.1H362.0V503.0H365.5V500.9H368.9V496.9H372.4V494.8H375.8V492.8H379.2V492.6H382.7V488.7H386.1V488.6H389.6V486.6H393.0V482.7H396.4V480.8H399.9V477.1H403.3V475.2H406.8V473.3H410.2V473.1H413.6V471.2H417.1V471.2H420.5V469.4H424.0V467.6H427.4V465.8H430.8V464.0H434.3V460.3H437.7V460.5H441.2V458.8H444.6V457.0H448.0V455.4H451.5V453.7H454.9V452.0H458.4V450.4H461.8V448.8H465.2V447.2H468.7V443.7H472.1V442.2H475.6V440.6H479.0V439.1H482.4V437.6H485.9V436.1H489.3V436.5H492.8V435.1H496.2V433.6H499.6V428.6H503.1V430.7H506.5V429.3H510.0V427.9H513.4V426.5H516.8V425.2H520.3V423.8H523.7V422.4H527.2V421.1H530.6V417.9H534.0V416.5H537.5V415.2H540.9V415.8H544.4V414.5H547.8V411.3H551.2V410.0H554.7V408.7H558.1V409.4H561.6V408.1H565.0V406.9H568.4V405.6H571.9V404.4H575.3V401.2H578.8V400.0H582.2V397.1H585.6V395.9H589.1V396.4H592.5V397.1H596.0V395.9H599.4V394.7H602.8V393.5H606.3V390.5H609.7V389.3H613.2V388.2H616.6V388.9H620.0V387.8H623.5V386.6H626.9V385.5H630.4V384.4H633.8V383.3H637.2V382.2H640.7V381.1H644.1V380.0H647.6V378.9H651.0V377.8H654.4V374.8H657.9V375.7H661.3V374.6H664.8V371.6H668.2V370.6H671.6V371.5H675.1V370.4H678.5V369.4H682.0V368.4H685.4V367.3H688.8V362.7H692.3V365.3H695.7V362.4H699.2V359.7H702.6V358.7H706.0V361.4H709.5V360.4H712.9V359.4H716.4V358.4H719.8V357.5H723.2V356.5H726.7V355.6H730.1V354.6H733.6V353.7H737.0V352.8H740.4V351.8H743.9V350.9H747.3V350.0H750.8V349.1H754.2V348.2H757.6V345.4H761.1V346.4H764.5V345.5H768.0V344.6H771.4V340.1H774.8V341.0H778.3V340.1H781.7V339.2H785.2V338.4H788.6V337.5H792.0V338.6H795.5V337.8H798.9V336.9H802.4V332.5H805.8V331.7H809.2V334.4H812.7V333.6H816.1V332.8H819.6V332.0H823.0V329.3H826.4V330.4H829.9V329.6H833.3V328.9H836.8V328.1H840.2V325.4H843.6V324.6H847.1V323.9H850.5V323.1H854.0V322.4H857.4V323.5H860.8V322.8H864.3V320.1H867.7V319.4H871.2V318.7H874.6V317.9H878.0V317.2H881.5V316.5H884.9V315.8H888.4V315.1H891.8V314.4H895.2V315.6H898.7V314.9H902.1V314.2H905.6V313.5H909.0V312.8H912.4V310.3H915.9V309.6H919.3V308.9H922.8V310.2H926.2V309.5H929.6V308.9H933.1V308.2H936.5V307.6H940.0V307.0H943.4V306.3H946.8V305.7H950.3V303.2H953.7V302.6H957.2V302.0H960.6V303.3H964.0V302.7H967.5V300.2H970.9V299.6H974.4V299.0H977.8V298.4H981.2V297.9H984.7V297.3H988.1V298.6H991.6V298.1H995.0V297.5H998.4V295.1H1001.9V294.6H1005.3V294.0H1008.8V293.5H1012.2V293.0H1015.6V292.5H1019.1V292.0H1022.5V293.4H1026.0V292.9H1029.4V290.5H1032.8V290.0H1036.3V289.5H1039.7V289.0H1043.2V286.9H1046.6V288.1H1050.0V287.6H1053.5V287.2H1056.9V286.7H1060.4V286.3H1063.8V285.9H1067.2V285.4H1070.7V286.9H1074.1V286.5H1077.6V286.1H1081.0V285.7H1084.4V283.4H1087.9V283.0H1091.3V280.9H1094.8V280.5H1098.2V280.1H1101.6V283.3H1105.1V282.9H1108.5V282.5H1112.0V280.2H1115.4V281.8H1118.8V281.4H1122.3V279.1H1125.7V280.6H1129.2V278.4H1132.6V278.0H1136.0V277.6H1139.5V277.3H1142.9V278.8H1146.4V274.8H1149.8V274.4H1153.2V277.7H1156.7V275.4H1160.1V275.0H1163.6V274.7H1167.0V276.2H1170.4V275.8H1173.9V275.5H1177.3V273.2H1180.8V271.1H1184.2V270.8H1187.6V270.4H1191.1V273.6H1194.5V271.4H1198.0V271.0H1201.4V270.6H1204.8V270.3H1208.3V269.9H1211.7V269.5H1215.2V271.1H1218.6V270.7H1222.0V270.4H1225.5V270.0H1228.9V269.6H1232.4V265.7H1235.8V267.0H1239.2V266.7H1242.7V266.3H1246.1V265.9H1249.6V267.5H1253.0V267.1H1256.4V264.9H1259.9V262.8H1263.3V266.1H1266.8V265.7H1270.2V265.4H1273.6V265.0H1277.1V264.7H1280.5V264.3H1284.0V264.0H1287.4V260.1H1290.8V259.7H1294.3V259.4H1297.7V259.0H1301.2V258.7H1304.6V258.4H1308.0V261.6H1311.5V261.3H1314.9V259.0H1318.4V258.7H1321.8V258.4H1325.2V258.1H1328.7V257.7H1332.1V257.4H1335.6V257.1H1339.0V258.7H1342.4V256.4H1345.9V256.1H1349.3V257.7H1352.8V255.5H1356.2V257.1H1359.6V254.8H1363.1V254.5H1366.5V256.1H1370.0V255.8H1373.4V255.5H1376.8V255.2H1380.3V254.9H1383.7V254.6H1387.2V254.3H1390.6V254.0H1394.0V253.7H1397.5V251.5H1400.9V251.2H1404.4V250.9H1407.8V252.5H1411.2V252.2H1414.7V251.9H1418.1V249.7H1421.6V249.4H1425.0V249.2H1428.4V248.9H1431.9V248.6H1435.3V246.6H1438.8V248.0H1442.2V247.8H1445.6V249.4H1449.1V247.2H1452.5V248.9H1456.0V248.6H1459.4V248.3H1462.8V248.1H1466.3V247.8H1469.7V243.9H1473.2V245.4H1476.6V245.1H1480.0V244.9H1483.5V246.5H1486.9V246.3H1490.4V244.1H1493.8V243.9H1497.2V245.6H1500.7V245.3H1504.1V241.5H1507.6V241.2H1511.0V244.6H1514.4V240.8H1517.9V240.5H1521.3V240.3H1524.8V240.1H1528.2V239.9H1531.6V243.2H1535.1V243.0H1538.5V242.8H1542.0V242.6H1545.4V242.4H1548.8V242.2H1552.3V238.4H1555.7V239.9H1559.2V239.7H1562.6V239.5H1566.0V239.3H1569.5V241.0H1572.9V240.8H1576.4V240.6H1579.8V240.4H1583.2V240.2H1586.7V240.0H1590.1V239.8H1593.6V239.7H1597.0V237.6H1600.4V237.4H1603.9V239.1H1607.3V237.1H1610.8V236.9H1614.2V236.7H1617.6V238.5H1621.1V236.4H1624.5V236.3H1628.0V236.1H1631.4V237.9H1634.8V237.7H1638.3V237.6H1641.7V233.8H1645.2V237.3H1648.6V237.1H1652.0V237.0H1655.5V235.0H1658.9V236.7H1662.4V236.6H1665.8V234.6H1669.2V236.3H1672.7V236.2H1676.1V236.1H1679.6V236.0H1683.0V234.0H1686.4V233.9H1689.9V233.7H1693.3V235.5H1696.8V235.4H1700.2V235.3H1703.6V235.2H1707.1V235.1H1710.5V235.0H1714.0V234.9H1717.4V234.9H1720.8V232.9H1724.3V232.8H1727.7V234.6H1731.2V234.5H1734.6V234.5H1738.0V234.4H1741.5V234.3H1744.9V250.4H1741.5V254.1H1738.0V252.4H1734.6V250.6H1731.2V254.3H1727.7V254.4H1724.3V254.5H1720.8V254.6H1717.4V251.0H1714.0V253.0H1710.5V253.1H1707.1V251.3H1703.6V255.0H1700.2V251.5H1696.8V251.6H1693.3V251.8H1689.9V251.9H1686.4V252.0H1683.0V252.1H1679.6V252.2H1676.1V252.3H1672.7V252.5H1669.2V252.6H1665.8V252.7H1662.4V252.9H1658.9V253.0H1655.5V253.1H1652.0V253.3H1648.6V253.4H1645.2V257.2H1641.7V257.3H1638.3V255.8H1634.8V255.9H1631.4V256.1H1628.0V256.2H1624.5V254.5H1621.1V254.6H1617.6V254.8H1614.2V258.6H1610.8V258.8H1607.3V255.3H1603.9V255.5H1600.4V257.6H1597.0V259.5H1593.6V256.0H1590.1V256.2H1586.7V256.4H1583.2V260.2H1579.8V258.7H1576.4V260.6H1572.9V260.8H1569.5V257.4H1566.0V257.6H1562.6V257.8H1559.2V258.0H1555.7V258.2H1552.3V262.0H1548.8V262.2H1545.4V262.4H1542.0V260.9H1538.5V259.3H1535.1V259.5H1531.6V259.7H1528.2V259.9H1524.8V262.1H1521.3V262.3H1517.9V260.6H1514.4V260.9H1511.0V261.1H1507.6V261.3H1504.1V261.6H1500.7V261.8H1497.2V264.0H1493.8V265.9H1490.4V262.6H1486.9V262.8H1483.5V263.1H1480.0V263.3H1476.6V263.6H1473.2V263.8H1469.7V264.1H1466.3V264.4H1462.8V266.5H1459.4V266.8H1456.0V265.2H1452.5V269.0H1449.1V265.7H1445.6V267.9H1442.2V268.1H1438.8V268.4H1435.3V268.7H1431.9V267.1H1428.4V267.4H1425.0V267.7H1421.6V267.9H1418.1V268.2H1414.7V268.5H1411.2V270.7H1407.8V271.0H1404.4V271.3H1400.9V271.6H1397.5V271.9H1394.0V272.2H1390.6V272.5H1387.2V270.9H1383.7V273.1H1380.3V273.4H1376.8V271.8H1373.4V272.1H1370.0V272.5H1366.5V272.8H1363.1V273.1H1359.6V275.3H1356.2V275.6H1352.8V275.9H1349.3V278.0H1345.9V276.6H1342.4V276.9H1339.0V278.9H1335.6V279.3H1332.1V276.0H1328.7V276.3H1325.2V276.7H1321.8V277.0H1318.4V277.3H1314.9V277.7H1311.5V278.0H1308.0V280.2H1304.6V278.7H1301.2V279.0H1297.7V279.4H1294.3V283.3H1290.8V283.6H1287.4V284.0H1284.0V280.7H1280.5V281.1H1277.1V281.4H1273.6V285.4H1270.2V285.7H1266.8V286.1H1263.3V286.4H1259.9V285.1H1256.4V285.4H1253.0V285.8H1249.6V284.2H1246.1V284.6H1242.7V285.0H1239.2V285.3H1235.8V287.6H1232.4V287.9H1228.9V288.3H1225.5V288.7H1222.0V287.1H1218.6V289.4H1215.2V287.8H1211.7V288.2H1208.3V290.5H1204.8V290.8H1201.4V291.2H1198.0V291.6H1194.5V293.6H1191.1V292.3H1187.6V290.8H1184.2V291.1H1180.8V295.1H1177.3V295.5H1173.9V295.8H1170.4V292.6H1167.0V293.0H1163.6V293.4H1160.1V293.7H1156.7V294.1H1153.2V294.5H1149.8V294.8H1146.4V295.2H1142.9V295.6H1139.5V295.9H1136.0V298.2H1132.6V298.6H1129.2V299.0H1125.7V299.3H1122.3V297.8H1118.8V298.2H1115.4V300.5H1112.0V300.9H1108.5V302.9H1105.1V303.3H1101.6V302.0H1098.2V302.4H1094.8V302.8H1091.3V301.3H1087.9V301.7H1084.4V302.1H1081.0V302.5H1077.6V303.0H1074.1V303.4H1070.7V303.8H1067.2V304.3H1063.8V304.7H1060.4V307.0H1056.9V305.6H1053.5V306.1H1050.0V306.5H1046.6V307.0H1043.2V307.5H1039.7V308.0H1036.3V308.4H1032.8V310.8H1029.4V309.4H1026.0V309.9H1022.5V314.1H1019.1V311.0H1015.6V311.5H1012.2V313.9H1008.8V314.5H1005.3V313.1H1001.9V317.2H998.4V314.2H995.0V314.8H991.6V315.3H988.1V315.9H984.7V316.5H981.2V317.0H977.8V317.6H974.4V321.8H970.9V322.4H967.5V323.0H964.0V321.9H960.6V322.5H957.2V323.1H953.7V321.8H950.3V322.5H946.8V325.0H943.4V325.6H940.0V324.4H936.5V325.0H933.1V329.3H929.6V326.3H926.2V327.0H922.8V329.5H919.3V330.2H915.9V330.9H912.4V331.6H909.0V330.4H905.6V331.0H902.1V333.6H898.7V334.3H895.2V335.0H891.8V335.8H888.4V334.6H884.9V335.3H881.5V336.0H878.0V338.6H874.6V337.5H871.2V338.2H867.7V338.9H864.3V339.7H860.8V340.4H857.4V341.2H854.0V342.0H850.5V342.7H847.1V345.4H843.6V346.2H840.2V347.0H836.8V345.8H833.3V346.6H829.9V349.3H826.4V350.1H823.0V349.0H819.6V349.9H816.1V350.7H812.7V353.4H809.2V354.2H805.8V353.2H802.4V357.6H798.9V356.7H795.5V357.6H792.0V356.5H788.6V359.3H785.2V358.3H781.7V359.1H778.3V360.0H774.8V360.9H771.4V361.8H768.0V366.3H764.5V367.2H761.1V366.4H757.6V367.3H754.2V369.9H750.8V367.2H747.3V368.1H743.9V369.0H740.4V370.0H737.0V372.8H733.6V373.8H730.1V372.8H726.7V375.7H723.2V376.6H719.8V375.7H716.4V376.7H712.9V377.7H709.5V382.3H706.0V383.3H702.6V382.6H699.2V381.7H695.7V382.7H692.3V385.6H688.8V386.6H685.4V385.7H682.0V390.4H678.5V391.4H675.1V388.9H671.6V389.9H668.2V394.6H664.8V395.6H661.3V396.7H657.9V396.1H654.4V395.3H651.0V398.3H647.6V399.4H644.1V398.6H640.7V399.7H637.2V402.7H633.8V403.8H630.4V405.0H626.9V404.2H623.5V405.3H620.0V406.5H616.6V407.7H613.2V408.8H609.7V410.0H606.3V414.8H602.8V416.0H599.4V417.2H596.0V414.8H592.5V417.9H589.1V417.2H585.6V418.4H582.2V419.6H578.8V420.9H575.3V422.1H571.9V425.3H568.4V426.5H565.0V427.8H561.6V429.1H558.1V430.4H554.7V431.6H551.2V431.0H547.8V432.4H544.4V433.7H540.9V436.9H537.5V438.2H534.0V441.3H530.6V439.0H527.2V440.4H523.7V445.4H520.3V446.8H516.8V448.2H513.4V446.0H510.0V449.3H506.5V448.8H503.1V452.2H499.6V453.7H496.2V455.1H492.8V456.6H489.3V458.1H485.9V457.8H482.4V459.3H479.0V460.9H475.6V464.3H472.1V465.9H468.7V467.5H465.2V467.3H461.8V468.9H458.4V470.6H454.9V472.3H451.5V475.9H448.0V475.7H444.6V477.5H441.2V479.2H437.7V481.0H434.3V482.8H430.8V486.5H427.4V488.4H424.0V490.2H420.5V492.1H417.1V495.7H413.6V497.6H410.2V499.5H406.8V501.5H403.3V499.9H399.9V501.8H396.4V503.8H393.0V505.9H389.6V507.9H386.1V509.9H382.7V512.0H379.2V517.7H375.8V519.8H372.4V518.3H368.9V524.0H365.5V526.1H362.0V528.2H358.6V528.7H355.2V528.9H351.7V531.1H348.3V533.3H344.8V535.5H341.4V541.3H338.0V541.8H334.5V542.2H331.1V544.5H327.6V548.7H324.2V551.1H320.8V553.5H317.3V554.0H313.9V556.5H310.4V559.1H307.0V561.7H303.6V566.3H300.1V567.2H296.7V570.1H293.2V573.1H289.8V578.1H286.4V579.4H282.9V584.7H279.5V588.2H276.0V592.0H272.6V594.1H269.2V600.2H265.7V604.7H262.3V607.7H258.8V616.7H255.4V620.8H252.0V627.3H248.5V632.6H245.1V640.9H241.6V650.6H238.2V662.3H234.8V676.9H231.3V694.5H227.9V716.5H224.4V716.5H221.0Z" fill="#4472c4" fill-opacity="0.6"/>
<path d="M217.0,708.1 L217.2,705.7 L217.4,703.3 L217.7,700.9 L217.9,698.5 L218.2,696.1 L218.6,693.6 L219.0,691.2 L219.4,688.8 L219.8,686.3 L220.2,683.9 L220.7,681.4 L221.1,679.0 L221.6,676.5 L222.1,674.1 L222.6,671.6 L223.1,669.2 L223.6,666.7 L224.1,664.3 L224.7,661.9 L225.2,659.5 L225.8,657.0 L226.4,654.6 L227.1,652.2 L227.7,649.8 L228.4,647.4 L229.1,645.0 L229.8,642.6 L230.6,640.2 L231.4,637.8 L232.2,635.4 L233.0,633.1 L233.9,630.7 L234.8,628.4 L235.8,626.1 L236.7,623.7 L237.8,621.4 L238.8,619.1 L239.9,616.9 L241.0,614.6 L242.1,612.3 L243.3,610.1 L244.5,607.9 L245.7,605.7 L247.0,603.5 L248.3,601.3 L249.6,599.2 L251.0,597.0 L252.4,594.9 L253.9,592.9 L255.3,590.8 L256.8,588.7 L258.4,586.7 L259.9,584.7 L261.5,582.8 L263.1,580.8 L264.8,578.9 L266.5,577.0 L268.2,575.1 L269.9,573.2 L271.6,571.4 L273.4,569.6 L275.2,567.8 L277.0,566.0 L278.8,564.3 L280.7,562.5 L282.6,560.8 L284.4,559.1 L286.3,557.5 L288.3,555.8 L290.2,554.2 L292.1,552.6 L294.1,551.0 L296.1,549.4 L298.1,547.9 L300.1,546.3 L302.1,544.8 L304.1,543.3 L306.1,541.8 L308.2,540.3 L310.2,538.8 L312.2,537.4 L314.3,535.9 L316.4,534.5 L318.4,533.1 L320.5,531.7 L322.6,530.2 L324.7,528.8 L326.8,527.5 L328.9,526.1 L331.0,524.7 L333.1,523.3 L335.2,522.0 L337.3,520.6 L339.4,519.3 L341.5,517.9 L343.6,516.6 L345.8,515.2 L347.9,513.9 L350.0,512.6 L352.1,511.2 L354.2,509.9 L356.4,508.6 L358.5,507.3 L360.6,506.0 L362.8,504.6 L364.9,503.3 L367.0,502.0 L369.2,500.7 L371.3,499.4 L373.5,498.1 L375.6,496.8 L377.8,495.6 L379.9,494.3 L382.1,493.0 L384.2,491.7 L386.4,490.4 L388.6,489.2 L390.7,487.9 L392.9,486.7 L395.1,485.4 L397.2,484.2 L399.4,482.9 L401.6,481.7 L403.8,480.4 L406.0,479.2 L408.2,478.0 L410.4,476.8 L412.5,475.6 L414.7,474.4 L417.0,473.2 L419.2,472.0 L421.4,470.8 L423.6,469.6 L425.8,468.4 L428.0,467.3 L430.2,466.1 L432.5,464.9 L434.7,463.8 L436.9,462.6 L439.2,461.5 L441.4,460.4 L443.6,459.2 L445.9,458.1 L448.1,457.0 L450.4,455.9 L452.6,454.8 L454.9,453.7 L457.2,452.6 L459.4,451.5 L461.7,450.5 L464.0,449.4 L466.3,448.3 L468.5,447.3 L470.8,446.2 L473.1,445.2 L475.4,444.2 L477.7,443.1 L480.0,442.1 L482.3,441.1 L484.6,440.1 L486.9,439.1 L489.2,438.1 L491.5,437.1 L493.8,436.1 L496.1,435.1 L498.4,434.1 L500.7,433.2 L503.0,432.2 L505.3,431.2 L507.6,430.3 L510.0,429.3 L512.3,428.4 L514.6,427.4 L516.9,426.5 L519.3,425.6 L521.6,424.6 L523.9,423.7 L526.2,422.8 L528.6,421.9 L530.9,421.0 L533.2,420.1 L535.6,419.2 L537.9,418.3 L540.3,417.4 L542.6,416.5 L544.9,415.6 L547.3,414.7 L549.6,413.8 L552.0,412.9 L554.3,412.1 L556.7,411.2 L559.0,410.3 L561.4,409.4 L563.7,408.6 L566.1,407.7 L568.4,406.9 L570.8,406.0 L573.1,405.2 L575.5,404.3 L577.9,403.5 L580.2,402.6 L582.6,401.8 L584.9,400.9 L587.3,400.1 L589.7,399.3 L592.0,398.5 L594.4,397.6 L596.8,396.8 L599.1,396.0 L601.5,395.2 L603.9,394.4 L606.2,393.6 L608.6,392.8 L611.0,392.0 L613.3,391.2 L615.7,390.4 L618.1,389.6 L620.5,388.8 L622.8,388.0 L625.2,387.2 L627.6,386.4 L630.0,385.6 L632.4,384.9 L634.7,384.1 L637.1,383.3 L639.5,382.5 L641.9,381.8 L644.3,381.0 L646.7,380.3 L649.1,379.5 L651.4,378.8 L653.8,378.0 L656.2,377.3 L658.6,376.5 L661.0,375.8 L663.4,375.0 L665.8,374.3 L668.2,373.6 L670.6,372.8 L673.0,372.1 L675.4,371.4 L677.8,370.6 L680.2,369.9 L682.6,369.2 L685.0,368.5 L687.4,367.8 L689.8,367.1 L692.2,366.4 L694.6,365.7 L697.0,365.0 L699.4,364.3 L701.8,363.6 L704.2,362.9 L706.6,362.2 L709.0,361.5 L711.4,360.8 L713.8,360.1 L716.2,359.4 L718.6,358.8 L721.1,358.1 L723.5,357.4 L725.9,356.7 L728.3,356.1 L730.7,355.4 L733.1,354.7 L735.5,354.1 L738.0,353.4 L740.4,352.8 L742.8,352.1 L745.2,351.5 L747.6,350.8 L750.0,350.2 L752.5,349.5 L754.9,348.9 L757.3,348.3 L759.7,347.6 L762.2,347.0 L764.6,346.4 L767.0,345.8 L769.4,345.1 L771.9,344.5 L774.3,343.9 L776.7,343.3 L779.1,342.7 L781.6,342.0 L784.0,341.4 L786.4,340.8 L788.9,340.2 L791.3,339.6 L793.7,339.0 L796.1,338.4 L798.6,337.8 L801.0,337.2 L803.4,336.7 L805.9,336.1 L808.3,335.5 L810.7,334.9 L813.2,334.3 L815.6,333.7 L818.1,333.2 L820.5,332.6 L822.9,332.0 L825.4,331.5 L827.8,330.9 L830.2,330.3 L832.7,329.8 L835.1,329.2 L837.6,328.7 L840.0,328.1 L842.5,327.6 L844.9,327.0 L847.3,326.5 L849.8,325.9 L852.2,325.4 L854.7,324.9 L857.1,324.3 L859.6,323.8 L862.0,323.2 L864.5,322.7 L866.9,322.2 L869.4,321.7 L871.8,321.1 L874.3,320.6 L876.7,320.1 L879.2,319.6 L881.6,319.1 L884.1,318.6 L886.5,318.1 L889.0,317.6 L891.4,317.1 L893.9,316.6 L896.3,316.1 L898.8,315.6 L901.2,315.1 L903.7,314.6 L906.1,314.1 L908.6,313.6 L911.0,313.1 L913.5,312.6 L916.0,312.2 L918.4,311.7 L920.9,311.2 L923.3,310.7 L925.8,310.3 L928.3,309.8 L930.7,309.3 L933.2,308.9 L935.6,308.4 L938.1,307.9 L940.6,307.5 L943.0,307.0 L945.5,306.6 L947.9,306.1 L950.4,305.7 L952.9,305.2 L955.3,304.8 L957.8,304.4 L960.3,303.9 L962.7,303.5 L965.2,303.1 L967.7,302.6 L970.1,302.2 L972.6,301.8 L975.1,301.4 L977.5,301.0 L980.0,300.5 L982.5,300.1 L985.0,299.7 L987.4,299.3 L989.9,298.9 L992.4,298.5 L994.8,298.1 L997.3,297.7 L999.8,297.3 L1002.3,296.9 L1004.7,296.6 L1007.2,296.2 L1009.7,295.8 L1012.2,295.4 L1014.6,295.0 L1017.1,294.7 L1019.6,294.3 L1022.1,293.9 L1024.6,293.6 L1027.0,293.2 L1029.5,292.8 L1032.0,292.5 L1034.5,292.1 L1036.9,291.8 L1039.4,291.4 L1041.9,291.1 L1044.4,290.8 L1046.9,290.4 L1049.4,290.1 L1051.8,289.8 L1054.3,289.4 L1056.8,289.1 L1059.3,288.8 L1061.8,288.5 L1064.3,288.1 L1066.7,287.8 L1069.2,287.5 L1071.7,287.2 L1074.2,286.9 L1076.7,286.6 L1079.2,286.3 L1081.7,286.0 L1084.1,285.7 L1086.6,285.4 L1089.1,285.1 L1091.6,284.8 L1094.1,284.5 L1096.6,284.3 L1099.1,284.0 L1101.5,283.7 L1104.0,283.4 L1106.5,283.1 L1109.0,282.9 L1111.5,282.6 L1114.0,282.3 L1116.5,282.0 L1118.9,281.8 L1121.4,281.5 L1123.9,281.2 L1126.4,280.9 L1128.9,280.7 L1131.4,280.4 L1133.9,280.1 L1136.4,279.9 L1138.8,279.6 L1141.3,279.3 L1143.8,279.1 L1146.3,278.8 L1148.8,278.5 L1151.3,278.3 L1153.8,278.0 L1156.2,277.7 L1158.7,277.5 L1161.2,277.2 L1163.7,276.9 L1166.2,276.7 L1168.7,276.4 L1171.2,276.1 L1173.6,275.9 L1176.1,275.6 L1178.6,275.3 L1181.1,275.1 L1183.6,274.8 L1186.1,274.5 L1188.6,274.3 L1191.0,274.0 L1193.5,273.7 L1196.0,273.5 L1198.5,273.2 L1201.0,272.9 L1203.5,272.7 L1206.0,272.4 L1208.4,272.1 L1210.9,271.9 L1213.4,271.6 L1215.9,271.4 L1218.4,271.1 L1220.9,270.8 L1223.4,270.6 L1225.9,270.3 L1228.3,270.1 L1230.8,269.8 L1233.3,269.5 L1235.8,269.3 L1238.3,269.0 L1240.8,268.8 L1243.3,268.5 L1245.8,268.2 L1248.2,268.0 L1250.7,267.7 L1253.2,267.5 L1255.7,267.2 L1258.2,267.0 L1260.7,266.7 L1263.2,266.4 L1265.7,266.2 L1268.1,265.9 L1270.6,265.7 L1273.1,265.4 L1275.6,265.2 L1278.1,264.9 L1280.6,264.7 L1283.1,264.4 L1285.6,264.2 L1288.0,263.9 L1290.5,263.7 L1293.0,263.4 L1295.5,263.2 L1298.0,262.9 L1300.5,262.7 L1303.0,262.5 L1305.5,262.2 L1308.0,262.0 L1310.4,261.7 L1312.9,261.5 L1315.4,261.2 L1317.9,261.0 L1320.4,260.8 L1322.9,260.5 L1325.4,260.3 L1327.9,260.0 L1330.4,259.8 L1332.9,259.6 L1335.3,259.3 L1337.8,259.1 L1340.3,258.9 L1342.8,258.6 L1345.3,258.4 L1347.8,258.1 L1350.3,257.9 L1352.8,257.7 L1355.3,257.5 L1357.8,257.2 L1360.2,257.0 L1362.7,256.8 L1365.2,256.5 L1367.7,256.3 L1370.2,256.1 L1372.7,255.9 L1375.2,255.6 L1377.7,255.4 L1380.2,255.2 L1382.7,255.0 L1385.2,254.8 L1387.7,254.5 L1390.1,254.3 L1392.6,254.1 L1395.1,253.9 L1397.6,253.7 L1400.1,253.4 L1402.6,253.2 L1405.1,253.0 L1407.6,252.8 L1410.1,252.6 L1412.6,252.4 L1415.1,252.2 L1417.6,252.0 L1420.0,251.8 L1422.5,251.5 L1425.0,251.3 L1427.5,251.1 L1430.0,250.9 L1432.5,250.7 L1435.0,250.5 L1437.5,250.3 L1440.0,250.1 L1442.5,249.9 L1445.0,249.7 L1447.5,249.5 L1450.0,249.3 L1452.5,249.1 L1455.0,248.9 L1457.5,248.7 L1459.9,248.5 L1462.4,248.4 L1464.9,248.2 L1467.4,248.0 L1469.9,247.8 L1472.4,247.6 L1474.9,247.4 L1477.4,247.2 L1479.9,247.0 L1482.4,246.9 L1484.9,246.7 L1487.4,246.5 L1489.9,246.3 L1492.4,246.1 L1494.9,246.0 L1497.4,245.8 L1499.9,245.6 L1502.4,245.4 L1504.9,245.3 L1507.4,245.1 L1509.8,244.9 L1512.3,244.7 L1514.8,244.6 L1517.3,244.4 L1519.8,244.2 L1522.3,244.1 L1524.8,243.9 L1527.3,243.7 L1529.8,243.6 L1532.3,243.4 L1534.8,243.3 L1537.3,243.1 L1539.8,242.9 L1542.3,242.8 L1544.8,242.6 L1547.3,242.5 L1549.8,242.3 L1552.3,242.2 L1554.8,242.0 L1557.3,241.9 L1559.8,241.7 L1562.3,241.6 L1564.8,241.4 L1567.3,241.3 L1569.8,241.1 L1572.3,241.0 L1574.8,240.9 L1577.3,240.7 L1579.8,240.6 L1582.3,240.4 L1584.8,240.3 L1587.3,240.2 L1589.8,240.0 L1592.3,239.9 L1594.8,239.8 L1597.3,239.7 L1599.8,239.5 L1602.3,239.4 L1604.7,239.3 L1607.2,239.1 L1609.7,239.0 L1612.2,238.9 L1614.7,238.8 L1617.2,238.7 L1619.7,238.5 L1622.2,238.4 L1624.7,238.3 L1627.2,238.2 L1629.7,238.1 L1632.2,238.0 L1634.7,237.9 L1637.2,237.7 L1639.7,237.6 L1642.2,237.5 L1644.7,237.4 L1647.2,237.3 L1649.7,237.2 L1652.2,237.1 L1654.7,237.0 L1657.2,236.9 L1659.7,236.8 L1662.2,236.7 L1664.7,236.6 L1667.2,236.5 L1669.7,236.4 L1672.2,236.4 L1674.7,236.3 L1677.2,236.2 L1679.7,236.1 L1682.2,236.0 L1684.7,235.9 L1687.2,235.8 L1689.7,235.8 L1692.2,235.7 L1694.7,235.6 L1697.2,235.5 L1699.8,235.4 L1702.3,235.4 L1704.8,235.3 L1707.3,235.2 L1709.8,235.2 L1712.3,235.1 L1714.8,235.0 L1717.3,235.0 L1719.8,234.9 L1722.3,234.8 L1724.8,234.8 L1727.3,234.7 L1729.8,234.6 L1732.3,234.6 L1734.8,234.5 L1737.3,234.5 L1739.8,234.4 L1742.3,234.4 L1744.8,234.3 L1744.9,234.3 L1745.1,250.3 L1744.9,250.3 L1742.4,250.4 L1739.9,250.4 L1737.4,250.5 L1734.9,250.5 L1732.4,250.6 L1730.0,250.6 L1727.5,250.7 L1725.0,250.8 L1722.5,250.8 L1720.0,250.9 L1717.5,251.0 L1715.0,251.0 L1712.5,251.1 L1710.0,251.2 L1707.5,251.2 L1705.0,251.3 L1702.5,251.4 L1700.0,251.4 L1697.5,251.5 L1695.0,251.6 L1692.5,251.7 L1690.0,251.8 L1687.5,251.8 L1685.0,251.9 L1682.5,252.0 L1680.0,252.1 L1677.5,252.2 L1675.0,252.3 L1672.5,252.3 L1670.0,252.4 L1667.5,252.5 L1665.0,252.6 L1662.5,252.7 L1660.0,252.8 L1657.6,252.9 L1655.1,253.0 L1652.6,253.1 L1650.1,253.2 L1647.6,253.3 L1645.1,253.4 L1642.6,253.5 L1640.1,253.6 L1637.6,253.7 L1635.1,253.8 L1632.6,254.0 L1630.1,254.1 L1627.6,254.2 L1625.1,254.3 L1622.6,254.4 L1620.1,254.5 L1617.6,254.6 L1615.1,254.8 L1612.6,254.9 L1610.1,255.0 L1607.6,255.1 L1605.2,255.3 L1602.7,255.4 L1600.2,255.5 L1597.7,255.6 L1595.2,255.8 L1592.7,255.9 L1590.2,256.0 L1587.7,256.2 L1585.2,256.3 L1582.7,256.4 L1580.2,256.6 L1577.7,256.7 L1575.2,256.9 L1572.7,257.0 L1570.2,257.1 L1567.7,257.3 L1565.2,257.4 L1562.7,257.6 L1560.3,257.7 L1557.8,257.9 L1555.3,258.0 L1552.8,258.2 L1550.3,258.3 L1547.8,258.5 L1545.3,258.6 L1542.8,258.8 L1540.3,258.9 L1537.8,259.1 L1535.3,259.2 L1532.8,259.4 L1530.3,259.6 L1527.8,259.7 L1525.3,259.9 L1522.9,260.1 L1520.4,260.2 L1517.9,260.4 L1515.4,260.6 L1512.9,260.7 L1510.4,260.9 L1507.9,261.1 L1505.4,261.2 L1502.9,261.4 L1500.4,261.6 L1497.9,261.8 L1495.4,261.9 L1492.9,262.1 L1490.5,262.3 L1488.0,262.5 L1485.5,262.7 L1483.0,262.8 L1480.5,263.0 L1478.0,263.2 L1475.5,263.4 L1473.0,263.6 L1470.5,263.8 L1468.0,264.0 L1465.5,264.1 L1463.1,264.3 L1460.6,264.5 L1458.1,264.7 L1455.6,264.9 L1453.1,265.1 L1450.6,265.3 L1448.1,265.5 L1445.6,265.7 L1443.1,265.9 L1440.6,266.1 L1438.1,266.3 L1435.7,266.5 L1433.2,266.7 L1430.7,266.9 L1428.2,267.1 L1425.7,267.3 L1423.2,267.5 L1420.7,267.7 L1418.2,267.9 L1415.7,268.1 L1413.2,268.4 L1410.8,268.6 L1408.3,268.8 L1405.8,269.0 L1403.3,269.2 L1400.8,269.4 L1398.3,269.6 L1395.8,269.8 L1393.3,270.1 L1390.8,270.3 L1388.4,270.5 L1385.9,270.7 L1383.4,270.9 L1380.9,271.2 L1378.4,271.4 L1375.9,271.6 L1373.4,271.8 L1370.9,272.1 L1368.4,272.3 L1366.0,272.5 L1363.5,272.7 L1361.0,273.0 L1358.5,273.2 L1356.0,273.4 L1353.5,273.7 L1351.0,273.9 L1348.5,274.1 L1346.0,274.3 L1343.6,274.6 L1341.1,274.8 L1338.6,275.1 L1336.1,275.3 L1333.6,275.5 L1331.1,275.8 L1328.6,276.0 L1326.1,276.2 L1323.7,276.5 L1321.2,276.7 L1318.7,277.0 L1316.2,277.2 L1313.7,277.4 L1311.2,277.7 L1308.7,277.9 L1306.3,278.2 L1303.8,278.4 L1301.3,278.7 L1298.8,278.9 L1296.3,279.2 L1293.8,279.4 L1291.3,279.6 L1288.8,279.9 L1286.4,280.1 L1283.9,280.4 L1281.4,280.6 L1278.9,280.9 L1276.4,281.1 L1273.9,281.4 L1271.4,281.6 L1269.0,281.9 L1266.5,282.2 L1264.0,282.4 L1261.5,282.7 L1259.0,282.9 L1256.5,283.2 L1254.0,283.4 L1251.5,283.7 L1249.1,283.9 L1246.6,284.2 L1244.1,284.5 L1241.6,284.7 L1239.1,285.0 L1236.6,285.2 L1234.1,285.5 L1231.7,285.7 L1229.2,286.0 L1226.7,286.3 L1224.2,286.5 L1221.7,286.8 L1219.2,287.1 L1216.7,287.3 L1214.3,287.6 L1211.8,287.8 L1209.3,288.1 L1206.8,288.4 L1204.3,288.6 L1201.8,288.9 L1199.3,289.2 L1196.9,289.4 L1194.4,289.7 L1191.9,290.0 L1189.4,290.2 L1186.9,290.5 L1184.4,290.7 L1181.9,291.0 L1179.5,291.3 L1177.0,291.5 L1174.5,291.8 L1172.0,292.1 L1169.5,292.3 L1167.0,292.6 L1164.6,292.9 L1162.1,293.1 L1159.6,293.4 L1157.1,293.7 L1154.6,293.9 L1152.1,294.2 L1149.6,294.5 L1147.2,294.7 L1144.7,295.0 L1142.2,295.3 L1139.7,295.6 L1137.2,295.8 L1134.7,296.1 L1132.2,296.4 L1129.8,296.6 L1127.3,296.9 L1124.8,297.2 L1122.3,297.4 L1119.8,297.7 L1117.3,298.0 L1114.9,298.3 L1112.4,298.5 L1109.9,298.8 L1107.4,299.1 L1104.9,299.4 L1102.4,299.6 L1100.0,299.9 L1097.5,300.2 L1095.0,300.5 L1092.5,300.8 L1090.0,301.1 L1087.6,301.4 L1085.1,301.6 L1082.6,301.9 L1080.1,302.2 L1077.6,302.5 L1075.2,302.8 L1072.7,303.1 L1070.2,303.4 L1067.7,303.8 L1065.3,304.1 L1062.8,304.4 L1060.3,304.7 L1057.8,305.0 L1055.4,305.4 L1052.9,305.7 L1050.4,306.0 L1047.9,306.3 L1045.5,306.7 L1043.0,307.0 L1040.5,307.4 L1038.1,307.7 L1035.6,308.1 L1033.1,308.4 L1030.6,308.8 L1028.2,309.1 L1025.7,309.5 L1023.2,309.8 L1020.8,310.2 L1018.3,310.6 L1015.8,310.9 L1013.4,311.3 L1010.9,311.7 L1008.4,312.1 L1006.0,312.5 L1003.5,312.8 L1001.0,313.2 L998.6,313.6 L996.1,314.0 L993.6,314.4 L991.2,314.8 L988.7,315.2 L986.3,315.6 L983.8,316.0 L981.3,316.4 L978.9,316.8 L976.4,317.3 L974.0,317.7 L971.5,318.1 L969.0,318.5 L966.6,319.0 L964.1,319.4 L961.7,319.8 L959.2,320.2 L956.7,320.7 L954.3,321.1 L951.8,321.6 L949.4,322.0 L946.9,322.5 L944.5,322.9 L942.0,323.4 L939.6,323.8 L937.1,324.3 L934.7,324.7 L932.2,325.2 L929.7,325.6 L927.3,326.1 L924.8,326.6 L922.4,327.1 L919.9,327.5 L917.5,328.0 L915.0,328.5 L912.6,329.0 L910.1,329.4 L907.7,329.9 L905.2,330.4 L902.8,330.9 L900.4,331.4 L897.9,331.9 L895.5,332.4 L893.0,332.9 L890.6,333.4 L888.1,333.9 L885.7,334.4 L883.2,334.9 L880.8,335.4 L878.4,335.9 L875.9,336.5 L873.5,337.0 L871.0,337.5 L868.6,338.0 L866.1,338.5 L863.7,339.1 L861.3,339.6 L858.8,340.1 L856.4,340.7 L854.0,341.2 L851.5,341.7 L849.1,342.3 L846.6,342.8 L844.2,343.4 L841.8,343.9 L839.3,344.5 L836.9,345.0 L834.5,345.6 L832.0,346.1 L829.6,346.7 L827.2,347.3 L824.7,347.8 L822.3,348.4 L819.9,349.0 L817.5,349.5 L815.0,350.1 L812.6,350.7 L810.2,351.3 L807.7,351.8 L805.3,352.4 L802.9,353.0 L800.5,353.6 L798.0,354.2 L795.6,354.8 L793.2,355.4 L790.8,356.0 L788.4,356.6 L785.9,357.2 L783.5,357.8 L781.1,358.4 L778.7,359.0 L776.3,359.6 L773.8,360.3 L771.4,360.9 L769.0,361.5 L766.6,362.1 L764.2,362.7 L761.8,363.4 L759.3,364.0 L756.9,364.6 L754.5,365.3 L752.1,365.9 L749.7,366.6 L747.3,367.2 L744.9,367.9 L742.5,368.5 L740.1,369.2 L737.6,369.8 L735.2,370.5 L732.8,371.1 L730.4,371.8 L728.0,372.5 L725.6,373.1 L723.2,373.8 L720.8,374.5 L718.4,375.1 L716.0,375.8 L713.6,376.5 L711.2,377.2 L708.8,377.9 L706.4,378.6 L704.0,379.2 L701.6,379.9 L699.2,380.6 L696.8,381.3 L694.4,382.0 L692.0,382.7 L689.6,383.4 L687.2,384.2 L684.9,384.9 L682.5,385.6 L680.1,386.3 L677.7,387.0 L675.3,387.7 L672.9,388.5 L670.5,389.2 L668.1,389.9 L665.8,390.7 L663.4,391.4 L661.0,392.1 L658.6,392.9 L656.2,393.6 L653.8,394.4 L651.5,395.1 L649.1,395.9 L646.7,396.6 L644.3,397.4 L642.0,398.2 L639.6,398.9 L637.2,399.7 L634.8,400.5 L632.5,401.2 L630.1,402.0 L627.7,402.8 L625.4,403.6 L623.0,404.4 L620.6,405.2 L618.3,405.9 L615.9,406.7 L613.5,407.5 L611.2,408.3 L608.8,409.1 L606.4,409.9 L604.1,410.7 L601.7,411.6 L599.4,412.4 L597.0,413.2 L594.7,414.0 L592.3,414.8 L589.9,415.7 L587.6,416.5 L585.2,417.3 L582.9,418.2 L580.5,419.0 L578.2,419.8 L575.8,420.7 L573.5,421.5 L571.2,422.4 L568.8,423.2 L566.5,424.1 L564.1,424.9 L561.8,425.8 L559.5,426.7 L557.1,427.5 L554.8,428.4 L552.4,429.3 L550.1,430.2 L547.8,431.1 L545.4,431.9 L543.1,432.8 L540.8,433.7 L538.5,434.6 L536.1,435.5 L533.8,436.4 L531.5,437.3 L529.2,438.2 L526.9,439.2 L524.5,440.1 L522.2,441.0 L519.9,441.9 L517.6,442.9 L515.3,443.8 L513.0,444.7 L510.7,445.7 L508.4,446.6 L506.1,447.6 L503.8,448.5 L501.5,449.5 L499.2,450.5 L496.9,451.5 L494.6,452.4 L492.3,453.4 L490.0,454.4 L487.8,455.4 L485.5,456.4 L483.2,457.4 L480.9,458.4 L478.7,459.4 L476.4,460.5 L474.1,461.5 L471.9,462.5 L469.6,463.6 L467.4,464.6 L465.1,465.7 L462.9,466.8 L460.6,467.8 L458.4,468.9 L456.1,470.0 L453.9,471.1 L451.7,472.2 L449.5,473.3 L447.2,474.4 L445.0,475.5 L442.8,476.6 L440.6,477.8 L438.4,478.9 L436.1,480.0 L433.9,481.2 L431.7,482.3 L429.5,483.5 L427.3,484.7 L425.1,485.8 L423.0,487.0 L420.8,488.2 L418.6,489.4 L416.4,490.6 L414.2,491.8 L412.0,493.0 L409.9,494.2 L407.7,495.4 L405.5,496.6 L403.4,497.9 L401.2,499.1 L399.0,500.3 L396.9,501.6 L394.7,502.8 L392.6,504.1 L390.4,505.3 L388.3,506.6 L386.1,507.9 L384.0,509.1 L381.9,510.4 L379.7,511.7 L377.6,513.0 L375.5,514.3 L373.3,515.6 L371.2,516.9 L369.1,518.2 L367.0,519.5 L364.8,520.8 L362.7,522.1 L360.6,523.4 L358.5,524.7 L356.4,526.0 L354.2,527.3 L352.1,528.7 L350.0,530.0 L347.9,531.3 L345.8,532.7 L343.7,534.0 L341.6,535.3 L339.5,536.7 L337.4,538.0 L335.3,539.4 L333.3,540.8 L331.2,542.1 L329.1,543.5 L327.1,544.9 L325.0,546.3 L323.0,547.7 L320.9,549.1 L318.9,550.5 L316.9,551.9 L314.8,553.3 L312.8,554.8 L310.8,556.2 L308.9,557.7 L306.9,559.2 L304.9,560.7 L303.0,562.2 L301.0,563.7 L299.1,565.2 L297.2,566.8 L295.3,568.3 L293.4,569.9 L291.6,571.5 L289.7,573.1 L287.9,574.8 L286.1,576.4 L284.3,578.1 L282.6,579.8 L280.8,581.5 L279.1,583.2 L277.4,584.9 L275.7,586.7 L274.1,588.5 L272.4,590.3 L270.8,592.1 L269.3,593.9 L267.7,595.8 L266.2,597.7 L264.7,599.6 L263.2,601.5 L261.8,603.5 L260.4,605.4 L259.0,607.4 L257.7,609.4 L256.4,611.5 L255.1,613.5 L253.9,615.6 L252.7,617.6 L251.5,619.7 L250.3,621.9 L249.2,624.0 L248.1,626.1 L247.1,628.3 L246.1,630.5 L245.1,632.7 L244.1,634.9 L243.2,637.1 L242.3,639.3 L241.4,641.6 L240.6,643.8 L239.7,646.1 L239.0,648.4 L238.2,650.7 L237.5,653.0 L236.8,655.3 L236.1,657.6 L235.4,659.9 L234.8,662.2 L234.2,664.6 L233.6,666.9 L233.0,669.3 L232.5,671.7 L231.9,674.0 L231.4,676.4 L230.9,678.8 L230.4,681.2 L229.9,683.6 L229.5,686.0 L229.0,688.5 L228.5,690.9 L228.1,693.3 L227.7,695.7 L227.3,698.1 L226.9,700.5 L226.5,702.8 L226.2,705.1 L225.9,707.5 L225.6,709.8 L225.4,712.1 L225.2,714.4 L225.0,716.5Z" fill="#4472c4"/>
</g>
<rect x="231.7" y="857.4" width="1514.5" height="93.1" fill="#fff" stroke="#000" stroke-width="3.4"/>
<g stroke-width="8" fill="none">
<line x1="377" y1="905.6" x2="448.5" y2="905.6" stroke="#70ad47"/>
<line x1="856.5" y1="905.6" x2="931.5" y2="905.6" stroke="#ed7d31"/>
<line x1="1325.5" y1="905.6" x2="1400.7" y2="905.6" stroke="#4472c4"/>
</g>
<g font-family="'Liberation Serif', serif" font-size="57.5" fill="#000" filter="url(#softt)">
<text><tspan x="454.2" y="923.6">Non </tspan><tspan x="563.2" y="920.5">– </tspan><tspan x="596.5" y="923.6">Shield</tspan></text>
<text x="936" y="919">Aluminum</text>
<text x="1404.2" y="919.4" letter-spacing="-0.5">SUS 304</text>
<text x="171.3" y="52.2" text-anchor="end">100</text>
<text x="171.3" y="145.5" text-anchor="end">90</text>
<text x="171.3" y="235.2" text-anchor="end">80</text>
<text x="171.3" y="328.0" text-anchor="end">70</text>
<text x="171.3" y="417.8" text-anchor="end">60</text>
<text x="171.3" y="510.4" text-anchor="end">50</text>
<text x="171.3" y="600.3" text-anchor="end">40</text>
<text x="171.3" y="693.9" text-anchor="end">30</text>
<text x="171.3" y="782.9" text-anchor="end">20</text>
<text x="171.3" y="876.8" text-anchor="end">10</text>
<text x="171.3" y="969.3" text-anchor="end">0</text>
<text x="219.6" y="1033.6" text-anchor="middle">0</text>
<text x="390.6" y="1033.6" text-anchor="middle">1000</text>
<text x="556.6" y="1033.6" text-anchor="middle">2000</text>
<text x="727.0" y="1033.6" text-anchor="middle">3000</text>
<text x="896.2" y="1033.6" text-anchor="middle">4000</text>
<text x="1065.9" y="1033.6" text-anchor="middle">5000</text>
<text x="1234.6" y="1033.6" text-anchor="middle">6000</text>
<text x="1404.6" y="1033.6" text-anchor="middle">7000</text>
<text x="1574.0" y="1033.6" text-anchor="middle">8000</text>
<text x="1742.6" y="1033.6" text-anchor="middle">9000</text>
<text x="981.3" y="1113.2" text-anchor="middle">Time [s]</text>
<text transform="translate(62,494.2) rotate(-90)" text-anchor="middle">Temperature [°C]</text>
</g>
</g>
</svg>
</body></html>
